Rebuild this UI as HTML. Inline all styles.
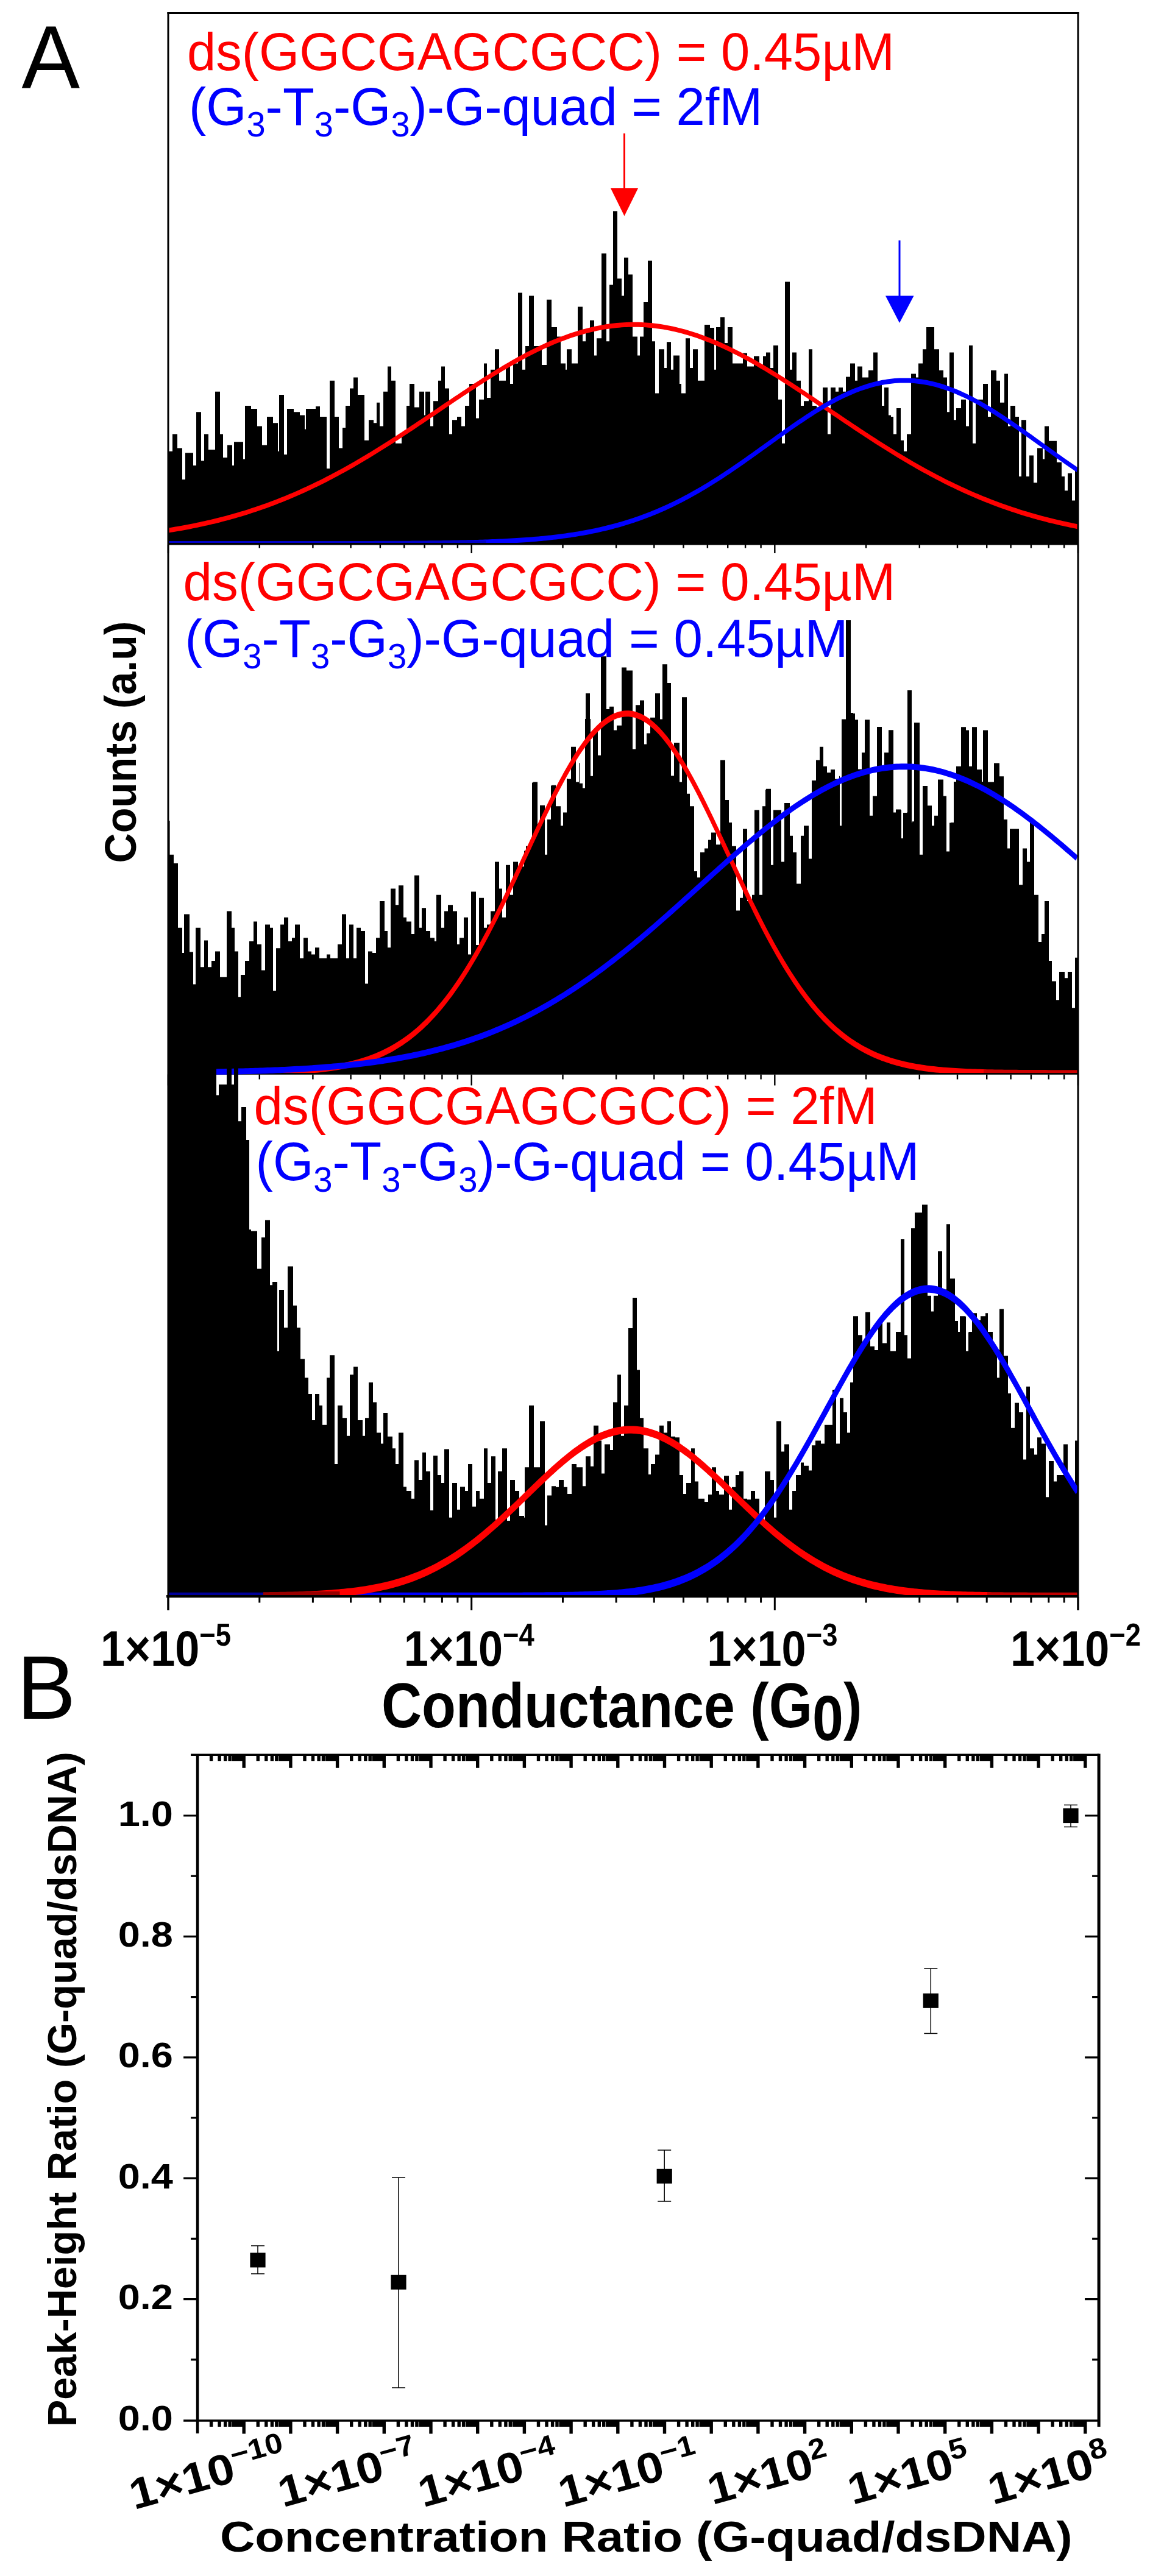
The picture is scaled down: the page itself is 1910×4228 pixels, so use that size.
<!DOCTYPE html>
<html><head><meta charset="utf-8"><title>Figure</title>
<style>html,body{margin:0;padding:0;background:#fff}</style></head>
<body>
<svg width="1910" height="4228" viewBox="0 0 1910 4228" style="display:block">
<rect width="1910" height="4228" fill="#fff"/>
<defs><clipPath id="c1"><rect x="274.5" y="0" width="1496" height="891.5"/></clipPath><clipPath id="c3"><rect x="274.5" y="1700" width="1496" height="918"/></clipPath></defs>
<path d="M277,893 277,740.7 283,740.7 283,712.4 291,712.4 291,735.6 299,735.6 299,787.1 304,787.1 304,743.3 317,743.3 317,763.9 322,763.9 322,676.3 330,676.3 330,756.2 335,756.2 335,712.4 342,712.4 342,738.1 353,738.1 353,642.8 361,642.8 361,712.4 366,712.4 366,751 373,751 373,730.4 381,730.4 381,763.9 384,763.9 384,725.3 399,725.3 399,753.6 402,753.6 402,666 412,666 412,671.1 422,671.1 422,699.5 430,699.5 430,730.4 438,730.4 438,684 448,684 448,694.3 456,694.3 456,740.7 458,740.7 458,647.9 466,647.9 466,745.9 471,745.9 471,671.1 482,671.1 482,676.3 492,676.3 492,681.4 500,681.4 500,704.6 502,704.6 502,671.1 518,671.1 518,667 525,667 525,684 536,684 536,769.1 541,769.1 541,624.7 549,624.7 549,684 556,684 556,735.6 562,735.6 562,702.1 567,702.1 567,666 574,666 574,637.6 580,637.6 580,619.6 587,619.6 587,647.9 598,647.9 598,722.7 605,722.7 605,689.2 613,689.2 613,694.3 618,694.3 618,660.8 623,660.8 623,699.5 629,699.5 629,642.8 636,642.8 636,601.5 642,601.5 642,624.7 649,624.7 649,727.8 659,727.8 659,712.4 667,712.4 667,666 672,666 672,629.9 680,629.9 680,668.6 688,668.6 688,642.8 696,642.8 696,681.4 698,681.4 698,642.8 706,642.8 706,699.5 711,699.5 711,658.2 719,658.2 719,624.7 724,624.7 724,601.5 730,601.5 730,637.6 737,637.6 737,712.4 742,712.4 742,689.2 750,689.2 750,684 757,684 757,699.5 763,699.5 763,666 770,666 770,629.9 781,629.9 781,686.6 786,686.6 786,655.7 794,655.7 794,596.4 799,596.4 799,653.1 805,653.1 805,606.7 812,606.7 812,573.2 819,573.2 819,624.7 830,624.7 830,599 837,599 837,629.9 842,629.9 842,596.4 850,596.4 850,480.4 857,480.4 857,606.7 862,606.7 862,568 868,568 868,485.6 876,485.6 876,568 889,568 889,599 897,599 897,491.8 905,491.8 905,537.1 914,537.1 914,552.6 920,552.6 920,596.4 928,596.4 928,606.7 930,606.7 930,573.2 938,573.2 938,596.4 948,596.4 948,503.6 956,503.6 956,560.3 961,560.3 961,542.3 968,542.3 968,525.8 975,525.8 975,583.5 979,583.5 979,555.2 987,555.2 987,416 995,416 995,560.3 1000,560.3 1000,467.5 1006,467.5 1006,346.4 1013,346.4 1013,457.2 1020,457.2 1020,485.6 1024,485.6 1024,422.7 1031,422.7 1031,450.5 1038,450.5 1038,552.6 1046,552.6 1046,583.5 1050,583.5 1050,552.6 1056,552.6 1056,495.9 1063,495.9 1063,427.8 1070,427.8 1070,560.3 1075,560.3 1075,645.4 1081,645.4 1081,573.2 1090,573.2 1090,604.1 1094,604.1 1094,561.3 1101,561.3 1101,606.7 1105,606.7 1105,583.5 1115,583.5 1115,629.9 1118,629.9 1118,645.4 1125,645.4 1125,555.2 1132,555.2 1132,604.1 1137,604.1 1137,573.2 1145,573.2 1145,624.7 1156,624.7 1156,533 1165,533 1165,538.1 1172,538.1 1172,606.7 1175,606.7 1175,537.1 1182,537.1 1182,520.6 1189,520.6 1189,562.9 1194,562.9 1194,537.1 1202,537.1 1202,596.4 1219,596.4 1219,579.4 1226,579.4 1226,601.5 1237,601.5 1237,584.5 1246,584.5 1246,601.5 1252,601.5 1252,584.5 1257,584.5 1257,578.4 1264,578.4 1264,604.1 1269,604.1 1269,567 1277,567 1277,655.7 1283,655.7 1283,727.8 1288,727.8 1288,462.4 1296,462.4 1296,606.7 1300,606.7 1300,578.4 1307,578.4 1307,624.7 1314,624.7 1314,666 1319,666 1319,658.2 1327,658.2 1327,573.2 1333,573.2 1333,666 1340,666 1340,668.6 1350,668.6 1350,636.1 1358,636.1 1358,712.4 1363,712.4 1363,636.1 1371,636.1 1371,642.8 1376,642.8 1376,636.1 1383,636.1 1383,642.8 1388,642.8 1388,618.6 1395,618.6 1395,596.4 1403,596.4 1403,624.7 1407,624.7 1407,601.5 1415,601.5 1415,619.6 1425,619.6 1425,607.7 1433,607.7 1433,578.4 1440,578.4 1440,629.9 1447,629.9 1447,666 1451,666 1451,636.1 1458,636.1 1458,681.4 1462,681.4 1462,684 1466,684 1466,712.4 1471,712.4 1471,670.1 1478,670.1 1478,722.7 1483,722.7 1483,740.7 1488,740.7 1488,712.4 1495,712.4 1495,613.4 1503,613.4 1503,619.6 1507,619.6 1507,596.4 1514,596.4 1514,573.2 1520,573.2 1520,537.1 1533,537.1 1533,573.2 1541,573.2 1541,607.7 1548,607.7 1548,619.6 1554,619.6 1554,676.3 1558,676.3 1558,578.4 1565,578.4 1565,689.2 1569,689.2 1569,670.1 1577,670.1 1577,655.7 1585,655.7 1585,699.5 1590,699.5 1590,567 1596,567 1596,727.8 1601,727.8 1601,655.7 1613,655.7 1613,629.9 1621,629.9 1621,684 1626,684 1626,607.7 1635,607.7 1635,624.7 1641,624.7 1641,660.8 1648,660.8 1648,613.4 1654,613.4 1654,699.5 1658,699.5 1658,666 1666,666 1666,684 1672,684 1672,782 1676,782 1676,689.2 1684,689.2 1684,782 1689,782 1689,747.4 1696,747.4 1696,792.3 1702,792.3 1702,735.6 1711,735.6 1711,753.6 1714,753.6 1714,699.5 1721,699.5 1721,723.7 1734,723.7 1734,758.8 1742,758.8 1742,782 1747,782 1747,805.2 1752,805.2 1752,776.8 1759,776.8 1759,821.6 1764,821.6 1764,769.1 1769,769.1 1769,893Z" fill="#000"/>
<g clip-path="url(#c1)" fill="none" stroke-width="5.3"><g transform="scale(1,1.5)">
<path d="M276.0,580.36 L280.0,579.94 L284.0,579.50 L288.0,579.05 L292.0,578.59 L296.0,578.12 L300.0,577.64 L304.0,577.15 L308.0,576.65 L312.0,576.13 L316.0,575.60 L320.0,575.06 L324.0,574.51 L328.0,573.95 L332.0,573.37 L336.0,572.78 L340.0,572.18 L344.0,571.57 L348.0,570.94 L352.0,570.30 L356.0,569.65 L360.0,568.98 L364.0,568.30 L368.0,567.60 L372.0,566.89 L376.0,566.17 L380.0,565.43 L384.0,564.68 L388.0,563.91 L392.0,563.13 L396.0,562.33 L400.0,561.52 L404.0,560.69 L408.0,559.85 L412.0,558.99 L416.0,558.12 L420.0,557.23 L424.0,556.32 L428.0,555.40 L432.0,554.47 L436.0,553.52 L440.0,552.55 L444.0,551.56 L448.0,550.56 L452.0,549.55 L456.0,548.51 L460.0,547.46 L464.0,546.40 L468.0,545.32 L472.0,544.22 L476.0,543.10 L480.0,541.97 L484.0,540.82 L488.0,539.66 L492.0,538.48 L496.0,537.28 L500.0,536.07 L504.0,534.84 L508.0,533.59 L512.0,532.33 L516.0,531.05 L520.0,529.75 L524.0,528.44 L528.0,527.11 L532.0,525.77 L536.0,524.41 L540.0,523.03 L544.0,521.64 L548.0,520.23 L552.0,518.81 L556.0,517.37 L560.0,515.92 L564.0,514.45 L568.0,512.97 L572.0,511.47 L576.0,509.96 L580.0,508.44 L584.0,506.90 L588.0,505.35 L592.0,503.78 L596.0,502.20 L600.0,500.61 L604.0,499.00 L608.0,497.39 L612.0,495.76 L616.0,494.11 L620.0,492.46 L624.0,490.80 L628.0,489.12 L632.0,487.44 L636.0,485.74 L640.0,484.04 L644.0,482.33 L648.0,480.60 L652.0,478.87 L656.0,477.13 L660.0,475.39 L664.0,473.63 L668.0,471.87 L672.0,470.10 L676.0,468.33 L680.0,466.55 L684.0,464.77 L688.0,462.98 L692.0,461.19 L696.0,459.39 L700.0,457.59 L704.0,455.79 L708.0,453.99 L712.0,452.18 L716.0,450.38 L720.0,448.57 L724.0,446.76 L728.0,444.96 L732.0,443.16 L736.0,441.35 L740.0,439.56 L744.0,437.76 L748.0,435.97 L752.0,434.18 L756.0,432.40 L760.0,430.62 L764.0,428.85 L768.0,427.08 L772.0,425.33 L776.0,423.58 L780.0,421.84 L784.0,420.11 L788.0,418.39 L792.0,416.68 L796.0,414.98 L800.0,413.29 L804.0,411.61 L808.0,409.95 L812.0,408.30 L816.0,406.67 L820.0,405.05 L824.0,403.45 L828.0,401.86 L832.0,400.29 L836.0,398.74 L840.0,397.20 L844.0,395.69 L848.0,394.19 L852.0,392.71 L856.0,391.26 L860.0,389.82 L864.0,388.41 L868.0,387.02 L872.0,385.65 L876.0,384.30 L880.0,382.98 L884.0,381.69 L888.0,380.42 L892.0,379.17 L896.0,377.95 L900.0,376.76 L904.0,375.60 L908.0,374.46 L912.0,373.35 L916.0,372.27 L920.0,371.22 L924.0,370.20 L928.0,369.21 L932.0,368.25 L936.0,367.32 L940.0,366.42 L944.0,365.56 L948.0,364.73 L952.0,363.92 L956.0,363.16 L960.0,362.42 L964.0,361.72 L968.0,361.05 L972.0,360.42 L976.0,359.82 L980.0,359.26 L984.0,358.73 L988.0,358.24 L992.0,357.78 L996.0,357.36 L1000.0,356.98 L1004.0,356.63 L1008.0,356.31 L1012.0,356.04 L1016.0,355.80 L1020.0,355.60 L1024.0,355.43 L1028.0,355.30 L1032.0,355.21 L1036.0,355.15 L1040.0,355.13 L1044.0,355.15 L1048.0,355.21 L1052.0,355.30 L1056.0,355.43 L1060.0,355.60 L1064.0,355.80 L1068.0,356.04 L1072.0,356.31 L1076.0,356.63 L1080.0,356.98 L1084.0,357.36 L1088.0,357.78 L1092.0,358.24 L1096.0,358.73 L1100.0,359.26 L1104.0,359.82 L1108.0,360.42 L1112.0,361.05 L1116.0,361.72 L1120.0,362.42 L1124.0,363.16 L1128.0,363.92 L1132.0,364.73 L1136.0,365.56 L1140.0,366.42 L1144.0,367.32 L1148.0,368.25 L1152.0,369.21 L1156.0,370.20 L1160.0,371.22 L1164.0,372.27 L1168.0,373.35 L1172.0,374.46 L1176.0,375.60 L1180.0,376.76 L1184.0,377.95 L1188.0,379.17 L1192.0,380.42 L1196.0,381.69 L1200.0,382.98 L1204.0,384.30 L1208.0,385.65 L1212.0,387.02 L1216.0,388.41 L1220.0,389.82 L1224.0,391.26 L1228.0,392.71 L1232.0,394.19 L1236.0,395.69 L1240.0,397.20 L1244.0,398.74 L1248.0,400.29 L1252.0,401.86 L1256.0,403.45 L1260.0,405.05 L1264.0,406.67 L1268.0,408.30 L1272.0,409.95 L1276.0,411.61 L1280.0,413.29 L1284.0,414.98 L1288.0,416.68 L1292.0,418.39 L1296.0,420.11 L1300.0,421.84 L1304.0,423.58 L1308.0,425.33 L1312.0,427.08 L1316.0,428.85 L1320.0,430.62 L1324.0,432.40 L1328.0,434.18 L1332.0,435.97 L1336.0,437.76 L1340.0,439.56 L1344.0,441.35 L1348.0,443.16 L1352.0,444.96 L1356.0,446.76 L1360.0,448.57 L1364.0,450.38 L1368.0,452.18 L1372.0,453.99 L1376.0,455.79 L1380.0,457.59 L1384.0,459.39 L1388.0,461.19 L1392.0,462.98 L1396.0,464.77 L1400.0,466.55 L1404.0,468.33 L1408.0,470.10 L1412.0,471.87 L1416.0,473.63 L1420.0,475.39 L1424.0,477.13 L1428.0,478.87 L1432.0,480.60 L1436.0,482.33 L1440.0,484.04 L1444.0,485.74 L1448.0,487.44 L1452.0,489.12 L1456.0,490.80 L1460.0,492.46 L1464.0,494.11 L1468.0,495.76 L1472.0,497.39 L1476.0,499.00 L1480.0,500.61 L1484.0,502.20 L1488.0,503.78 L1492.0,505.35 L1496.0,506.90 L1500.0,508.44 L1504.0,509.96 L1508.0,511.47 L1512.0,512.97 L1516.0,514.45 L1520.0,515.92 L1524.0,517.37 L1528.0,518.81 L1532.0,520.23 L1536.0,521.64 L1540.0,523.03 L1544.0,524.41 L1548.0,525.77 L1552.0,527.11 L1556.0,528.44 L1560.0,529.75 L1564.0,531.05 L1568.0,532.33 L1572.0,533.59 L1576.0,534.84 L1580.0,536.07 L1584.0,537.28 L1588.0,538.48 L1592.0,539.66 L1596.0,540.82 L1600.0,541.97 L1604.0,543.10 L1608.0,544.22 L1612.0,545.32 L1616.0,546.40 L1620.0,547.46 L1624.0,548.51 L1628.0,549.55 L1632.0,550.56 L1636.0,551.56 L1640.0,552.55 L1644.0,553.52 L1648.0,554.47 L1652.0,555.40 L1656.0,556.32 L1660.0,557.23 L1664.0,558.12 L1668.0,558.99 L1672.0,559.85 L1676.0,560.69 L1680.0,561.52 L1684.0,562.33 L1688.0,563.13 L1692.0,563.91 L1696.0,564.68 L1700.0,565.43 L1704.0,566.17 L1708.0,566.89 L1712.0,567.60 L1716.0,568.30 L1720.0,568.98 L1724.0,569.65 L1728.0,570.30 L1732.0,570.94 L1736.0,571.57 L1740.0,572.18 L1744.0,572.78 L1748.0,573.37 L1752.0,573.95 L1756.0,574.51 L1760.0,575.06 L1764.0,575.60 L1768.0,576.13" stroke="#f00"/>
<path d="M276.0,594.67 L280.0,594.67 L284.0,594.67 L288.0,594.67 L292.0,594.67 L296.0,594.67 L300.0,594.67 L304.0,594.67 L308.0,594.67 L312.0,594.67 L316.0,594.67 L320.0,594.67 L324.0,594.67 L328.0,594.67 L332.0,594.67 L336.0,594.67 L340.0,594.67 L344.0,594.67 L348.0,594.67 L352.0,594.67 L356.0,594.67 L360.0,594.67 L364.0,594.67 L368.0,594.67 L372.0,594.67 L376.0,594.67 L380.0,594.67 L384.0,594.67 L388.0,594.67 L392.0,594.67 L396.0,594.67 L400.0,594.67 L404.0,594.66 L408.0,594.66 L412.0,594.66 L416.0,594.66 L420.0,594.66 L424.0,594.66 L428.0,594.66 L432.0,594.66 L436.0,594.66 L440.0,594.66 L444.0,594.66 L448.0,594.66 L452.0,594.66 L456.0,594.66 L460.0,594.66 L464.0,594.66 L468.0,594.66 L472.0,594.66 L476.0,594.66 L480.0,594.66 L484.0,594.66 L488.0,594.66 L492.0,594.66 L496.0,594.66 L500.0,594.65 L504.0,594.65 L508.0,594.65 L512.0,594.65 L516.0,594.65 L520.0,594.65 L524.0,594.65 L528.0,594.65 L532.0,594.64 L536.0,594.64 L540.0,594.64 L544.0,594.64 L548.0,594.64 L552.0,594.63 L556.0,594.63 L560.0,594.63 L564.0,594.62 L568.0,594.62 L572.0,594.62 L576.0,594.61 L580.0,594.61 L584.0,594.61 L588.0,594.60 L592.0,594.60 L596.0,594.59 L600.0,594.59 L604.0,594.58 L608.0,594.58 L612.0,594.57 L616.0,594.56 L620.0,594.55 L624.0,594.55 L628.0,594.54 L632.0,594.53 L636.0,594.52 L640.0,594.51 L644.0,594.50 L648.0,594.49 L652.0,594.48 L656.0,594.46 L660.0,594.45 L664.0,594.43 L668.0,594.42 L672.0,594.40 L676.0,594.38 L680.0,594.37 L684.0,594.35 L688.0,594.32 L692.0,594.30 L696.0,594.28 L700.0,594.25 L704.0,594.23 L708.0,594.20 L712.0,594.17 L716.0,594.14 L720.0,594.11 L724.0,594.07 L728.0,594.04 L732.0,594.00 L736.0,593.96 L740.0,593.91 L744.0,593.87 L748.0,593.82 L752.0,593.77 L756.0,593.72 L760.0,593.66 L764.0,593.60 L768.0,593.54 L772.0,593.47 L776.0,593.40 L780.0,593.33 L784.0,593.26 L788.0,593.18 L792.0,593.09 L796.0,593.00 L800.0,592.91 L804.0,592.81 L808.0,592.71 L812.0,592.60 L816.0,592.49 L820.0,592.37 L824.0,592.25 L828.0,592.12 L832.0,591.99 L836.0,591.85 L840.0,591.70 L844.0,591.54 L848.0,591.38 L852.0,591.21 L856.0,591.04 L860.0,590.85 L864.0,590.66 L868.0,590.46 L872.0,590.25 L876.0,590.03 L880.0,589.81 L884.0,589.57 L888.0,589.32 L892.0,589.07 L896.0,588.80 L900.0,588.52 L904.0,588.23 L908.0,587.93 L912.0,587.62 L916.0,587.30 L920.0,586.96 L924.0,586.61 L928.0,586.24 L932.0,585.87 L936.0,585.48 L940.0,585.07 L944.0,584.65 L948.0,584.22 L952.0,583.77 L956.0,583.30 L960.0,582.82 L964.0,582.32 L968.0,581.80 L972.0,581.27 L976.0,580.72 L980.0,580.15 L984.0,579.56 L988.0,578.96 L992.0,578.33 L996.0,577.69 L1000.0,577.02 L1004.0,576.34 L1008.0,575.63 L1012.0,574.91 L1016.0,574.16 L1020.0,573.39 L1024.0,572.60 L1028.0,571.78 L1032.0,570.95 L1036.0,570.09 L1040.0,569.21 L1044.0,568.30 L1048.0,567.38 L1052.0,566.42 L1056.0,565.45 L1060.0,564.45 L1064.0,563.42 L1068.0,562.37 L1072.0,561.30 L1076.0,560.20 L1080.0,559.08 L1084.0,557.93 L1088.0,556.76 L1092.0,555.56 L1096.0,554.33 L1100.0,553.08 L1104.0,551.81 L1108.0,550.51 L1112.0,549.19 L1116.0,547.84 L1120.0,546.46 L1124.0,545.06 L1128.0,543.64 L1132.0,542.19 L1136.0,540.72 L1140.0,539.23 L1144.0,537.71 L1148.0,536.17 L1152.0,534.60 L1156.0,533.02 L1160.0,531.41 L1164.0,529.78 L1168.0,528.13 L1172.0,526.46 L1176.0,524.76 L1180.0,523.05 L1184.0,521.32 L1188.0,519.58 L1192.0,517.81 L1196.0,516.03 L1200.0,514.23 L1204.0,512.42 L1208.0,510.59 L1212.0,508.75 L1216.0,506.90 L1220.0,505.04 L1224.0,503.16 L1228.0,501.28 L1232.0,499.39 L1236.0,497.49 L1240.0,495.58 L1244.0,493.66 L1248.0,491.75 L1252.0,489.83 L1256.0,487.90 L1260.0,485.98 L1264.0,484.06 L1268.0,482.14 L1272.0,480.22 L1276.0,478.30 L1280.0,476.39 L1284.0,474.49 L1288.0,472.59 L1292.0,470.71 L1296.0,468.83 L1300.0,466.97 L1304.0,465.12 L1308.0,463.29 L1312.0,461.47 L1316.0,459.67 L1320.0,457.88 L1324.0,456.12 L1328.0,454.38 L1332.0,452.66 L1336.0,450.97 L1340.0,449.30 L1344.0,447.66 L1348.0,446.05 L1352.0,444.47 L1356.0,442.92 L1360.0,441.40 L1364.0,439.92 L1368.0,438.47 L1372.0,437.05 L1376.0,435.68 L1380.0,434.34 L1384.0,433.04 L1388.0,431.79 L1392.0,430.57 L1396.0,429.40 L1400.0,428.28 L1404.0,427.19 L1408.0,426.16 L1412.0,425.17 L1416.0,424.23 L1420.0,423.34 L1424.0,422.50 L1428.0,421.71 L1432.0,420.97 L1436.0,420.28 L1440.0,419.65 L1444.0,419.06 L1448.0,418.54 L1452.0,418.06 L1456.0,417.64 L1460.0,417.28 L1464.0,416.97 L1468.0,416.72 L1472.0,416.52 L1476.0,416.38 L1480.0,416.29 L1484.0,416.27 L1488.0,416.29 L1492.0,416.38 L1496.0,416.52 L1500.0,416.72 L1504.0,416.97 L1508.0,417.28 L1512.0,417.64 L1516.0,418.06 L1520.0,418.54 L1524.0,419.06 L1528.0,419.65 L1532.0,420.28 L1536.0,420.97 L1540.0,421.71 L1544.0,422.50 L1548.0,423.34 L1552.0,424.23 L1556.0,425.17 L1560.0,426.16 L1564.0,427.19 L1568.0,428.28 L1572.0,429.40 L1576.0,430.57 L1580.0,431.79 L1584.0,433.04 L1588.0,434.34 L1592.0,435.68 L1596.0,437.05 L1600.0,438.47 L1604.0,439.92 L1608.0,441.40 L1612.0,442.92 L1616.0,444.47 L1620.0,446.05 L1624.0,447.66 L1628.0,449.30 L1632.0,450.97 L1636.0,452.66 L1640.0,454.38 L1644.0,456.12 L1648.0,457.88 L1652.0,459.67 L1656.0,461.47 L1660.0,463.29 L1664.0,465.12 L1668.0,466.97 L1672.0,468.83 L1676.0,470.71 L1680.0,472.59 L1684.0,474.49 L1688.0,476.39 L1692.0,478.30 L1696.0,480.22 L1700.0,482.14 L1704.0,484.06 L1708.0,485.98 L1712.0,487.90 L1716.0,489.83 L1720.0,491.75 L1724.0,493.66 L1728.0,495.58 L1732.0,497.49 L1736.0,499.39 L1740.0,501.28 L1744.0,503.16 L1748.0,505.04 L1752.0,506.90 L1756.0,508.75 L1760.0,510.59 L1764.0,512.42 L1768.0,514.23" stroke="#00f"/>
</g></g>
<path d="M277,1762 277,1402.7 285,1402.7 285,1417.1 292,1417.1 292,1522.8 299,1522.8 299,1564 302,1564 302,1500.6 311,1500.6 311,1562.5 317,1562.5 317,1615.6 321,1615.6 321,1522.8 329,1522.8 329,1587.2 335,1587.2 335,1543.4 341,1543.4 341,1587.2 347,1587.2 347,1576.9 353,1576.9 353,1561.4 361,1561.4 361,1603.7 372,1603.7 372,1495.5 380,1495.5 380,1522.8 385,1522.8 385,1561.4 391,1561.4 391,1636.2 395,1636.2 395,1600.1 402,1600.1 402,1576.9 409,1576.9 409,1544.9 416,1544.9 416,1512.5 422,1512.5 422,1550.1 429,1550.1 429,1592.4 435,1592.4 435,1517.6 443,1517.6 443,1522.8 448,1522.8 448,1625.9 453,1625.9 453,1556.3 460,1556.3 460,1517.6 466,1517.6 466,1505.8 473,1505.8 473,1544.9 479,1544.9 479,1539.3 484,1539.3 484,1517.6 492,1517.6 492,1572.8 498,1572.8 498,1539.3 505,1539.3 505,1561.4 511,1561.4 511,1566.6 517,1566.6 517,1555.3 524,1555.3 524,1572.8 536,1572.8 536,1566.6 542,1566.6 542,1572.8 554,1572.8 554,1550.1 561,1550.1 561,1500.6 568,1500.6 568,1572.8 573,1572.8 573,1517.6 580,1517.6 580,1572.8 585,1572.8 585,1522.8 592,1522.8 592,1527.9 599,1527.9 599,1614.5 604,1614.5 604,1561.4 611,1561.4 611,1564 617,1564 617,1539.3 623,1539.3 623,1479 631,1479 631,1527.9 636,1527.9 636,1555.3 641,1555.3 641,1458.4 649,1458.4 649,1485.2 654,1485.2 654,1453.2 662,1453.2 662,1505.8 667,1505.8 667,1512.5 675,1512.5 675,1533.1 680,1533.1 680,1436.7 688,1436.7 688,1522.8 692,1522.8 692,1490.3 699,1490.3 699,1527.9 706,1527.9 706,1539.3 713,1539.3 713,1544.9 716,1544.9 716,1468.7 724,1468.7 724,1522.8 729,1522.8 729,1495.5 735,1495.5 735,1485.2 743,1485.2 743,1495.5 750,1495.5 750,1550.1 754,1550.1 754,1539.3 761,1539.3 761,1505.8 768,1505.8 768,1566.6 773,1566.6 773,1463.5 781,1463.5 781,1551.1 786,1551.1 786,1473.8 794,1473.8 794,1522.8 799,1522.8 799,1517.6 805,1517.6 805,1495.5 812,1495.5 812,1414.5 819,1414.5 819,1458.4 824,1458.4 824,1505.8 830,1505.8 830,1419.7 837,1419.7 837,1468.7 842,1468.7 842,1414.5 850,1414.5 850,1422.3 860,1422.3 860,1396.5 863,1396.5 863,1388.8 873,1388.8 873,1284.6 875,1284.6 875,1283.5 882,1283.5 882,1360.4 886,1360.4 886,1321.8 894,1321.8 894,1402.7 898,1402.7 898,1344.9 904,1344.9 904,1289.3 906,1289.3 906,1288.7 912,1288.7 912,1323.3 920,1323.3 920,1355.3 924,1355.3 924,1333.6 930,1333.6 930,1277.9 932,1277.9 932,1278.4 937,1278.4 937,1225.8 945,1225.8 945,1283.5 950,1283.5 950,1252.2 951,1252.2 951,1285.7 956,1285.7 956,1293.4 960,1293.4 960,1180 961,1180 961,1138.1 968,1138.1 968,1180 969,1180 969,1273.8 973,1273.8 973,1201 981,1201 981,1239.7 986,1239.7 986,1077.3 995,1077.3 995,1163.9 1000,1163.9 1000,1159.8 1007,1159.8 1007,1198.5 1012,1198.5 1012,1190.7 1020,1190.7 1020,1095.4 1028,1095.4 1028,1100.5 1038,1100.5 1038,1229.4 1043,1229.4 1043,1157.2 1050,1157.2 1050,1149.5 1057,1149.5 1057,1221.6 1061,1221.6 1061,1203.6 1067,1203.6 1067,1177.8 1075,1177.8 1075,1138.1 1083,1138.1 1083,1180.4 1087,1180.4 1087,1090.2 1095,1090.2 1095,1121.1 1101,1121.1 1101,1273.2 1106,1273.2 1106,1219.1 1115,1219.1 1115,1283.5 1119,1283.5 1119,1144.3 1127,1144.3 1127,1302.7 1132,1302.7 1132,1323.3 1139,1323.3 1139,1430 1144,1430 1144,1440.3 1149,1440.3 1149,1399.1 1156,1399.1 1156,1392.4 1162,1392.4 1162,1378.5 1167,1378.5 1167,1366.6 1175,1366.6 1175,1386.2 1182,1386.2 1182,1247.4 1190,1247.4 1190,1313 1196,1313 1196,1350.1 1201,1350.1 1201,1388.8 1208,1388.8 1208,1494.4 1214,1494.4 1214,1473.8 1219,1473.8 1219,1360.4 1226,1360.4 1226,1479 1234,1479 1234,1468.7 1238,1468.7 1238,1329.5 1246,1329.5 1246,1468.7 1251,1468.7 1251,1323.3 1256,1323.3 1256,1296 1257,1296 1257,1294.8 1265,1294.8 1265,1419.7 1269,1419.7 1269,1329.5 1282,1329.5 1282,1414.5 1287,1414.5 1287,1318.1 1296,1318.1 1296,1371.8 1301,1371.8 1301,1399.1 1307,1399.1 1307,1450.6 1314,1450.6 1314,1371.8 1319,1371.8 1319,1355.3 1327,1355.3 1327,1409.4 1332,1409.4 1332,1280.9 1339,1280.9 1339,1247.4 1345,1247.4 1345,1225.8 1351,1225.8 1351,1257.7 1357,1257.7 1357,1268 1363,1268 1363,1262.9 1370,1262.9 1370,1278.4 1377,1278.4 1377,1273.8 1378,1273.8 1378,1355.3 1381,1355.3 1381,1180.4 1388,1180.4 1388,1018 1396,1018 1396,1170.1 1400,1170.1 1400,1171 1403,1171 1403,1181.3 1408,1181.3 1408,1262.4 1414,1262.4 1414,1235.3 1419,1235.3 1419,1181.3 1427,1181.3 1427,1338.7 1432,1338.7 1432,1306.4 1439,1306.4 1439,1193 1447,1193 1447,1261.7 1451,1261.7 1451,1235.3 1458,1235.3 1458,1198.2 1466,1198.2 1466,1333.5 1470,1333.5 1470,1328.4 1478,1328.4 1478,1329.5 1479,1329.5 1479,1375.9 1482,1375.9 1482,1333.9 1488,1333.9 1488,1333.6 1489,1333.6 1489,1133 1496,1133 1496,1350.1 1497,1350.1 1497,1348.3 1500,1348.3 1500,1186.1 1509,1186.1 1509,1402.7 1514,1402.7 1514,1289.9 1522,1289.9 1522,1322.2 1529,1322.2 1529,1355.2 1533,1355.2 1533,1338.7 1539,1338.7 1539,1279.6 1548,1279.6 1548,1306.4 1553,1306.4 1553,1397.5 1558,1397.5 1558,1350.4 1560,1350.4 1560,1350.1 1565,1350.1 1565,1283.1 1569,1283.1 1569,1257.7 1577,1257.7 1577,1193.3 1585,1193.3 1585,1198.5 1590,1198.5 1590,1257.7 1595,1257.7 1595,1193.3 1603,1193.3 1603,1262.9 1611,1262.9 1611,1283.1 1613,1283.1 1613,1198.5 1621,1198.5 1621,1283.5 1631,1283.5 1631,1252.6 1640,1252.6 1640,1274.2 1647,1274.2 1647,1344.9 1653,1344.9 1653,1392.4 1657,1392.4 1657,1360.4 1672,1360.4 1672,1452.2 1678,1452.2 1678,1392.4 1685,1392.4 1685,1414.5 1690,1414.5 1690,1344.9 1697,1344.9 1697,1468.7 1704,1468.7 1704,1546 1709,1546 1709,1533.1 1714,1533.1 1714,1479 1721,1479 1721,1576.9 1726,1576.9 1726,1610.4 1733,1610.4 1733,1641.3 1738,1641.3 1738,1594.9 1747,1594.9 1747,1605.3 1752,1605.3 1752,1594.9 1759,1594.9 1759,1654.2 1764,1654.2 1764,1571.8 1769,1571.8 1769,1762Z" fill="#000"/>
<rect x="276" y="1347" width="2.6" height="60" fill="#000"/>
<defs><clipPath id="c2r"><rect x="274.5" y="900" width="1496" height="861.2"/></clipPath><clipPath id="c2b"><rect x="274.5" y="900" width="1496" height="863.8"/></clipPath></defs>
<g fill="none" stroke-width="6.4">
<g clip-path="url(#c2r)"><path transform="scale(1,1.55)" d="M440.0,1135.53 L444.0,1135.46 L448.0,1135.39 L452.0,1135.32 L456.0,1135.24 L460.0,1135.15 L464.0,1135.06 L468.0,1134.95 L472.0,1134.84 L476.0,1134.73 L480.0,1134.60 L484.0,1134.46 L488.0,1134.32 L492.0,1134.16 L496.0,1133.99 L500.0,1133.81 L504.0,1133.62 L508.0,1133.41 L512.0,1133.19 L516.0,1132.95 L520.0,1132.70 L524.0,1132.43 L528.0,1132.14 L532.0,1131.84 L536.0,1131.51 L540.0,1131.16 L544.0,1130.79 L548.0,1130.39 L552.0,1129.97 L556.0,1129.53 L560.0,1129.05 L564.0,1128.55 L568.0,1128.02 L572.0,1127.46 L576.0,1126.86 L580.0,1126.23 L584.0,1125.56 L588.0,1124.85 L592.0,1124.11 L596.0,1123.32 L600.0,1122.49 L604.0,1121.61 L608.0,1120.69 L612.0,1119.72 L616.0,1118.70 L620.0,1117.63 L624.0,1116.50 L628.0,1115.32 L632.0,1114.08 L636.0,1112.78 L640.0,1111.41 L644.0,1109.99 L648.0,1108.49 L652.0,1106.93 L656.0,1105.30 L660.0,1103.60 L664.0,1101.83 L668.0,1099.97 L672.0,1098.04 L676.0,1096.04 L680.0,1093.95 L684.0,1091.77 L688.0,1089.52 L692.0,1087.17 L696.0,1084.74 L700.0,1082.22 L704.0,1079.61 L708.0,1076.91 L712.0,1074.11 L716.0,1071.23 L720.0,1068.24 L724.0,1065.16 L728.0,1061.98 L732.0,1058.71 L736.0,1055.34 L740.0,1051.87 L744.0,1048.30 L748.0,1044.63 L752.0,1040.87 L756.0,1037.01 L760.0,1033.05 L764.0,1028.99 L768.0,1024.85 L772.0,1020.60 L776.0,1016.27 L780.0,1011.84 L784.0,1007.33 L788.0,1002.73 L792.0,998.04 L796.0,993.28 L800.0,988.43 L804.0,983.51 L808.0,978.51 L812.0,973.45 L816.0,968.32 L820.0,963.13 L824.0,957.88 L828.0,952.58 L832.0,947.23 L836.0,941.83 L840.0,936.40 L844.0,930.94 L848.0,925.44 L852.0,919.93 L856.0,914.39 L860.0,908.85 L864.0,903.31 L868.0,897.76 L872.0,892.23 L876.0,886.71 L880.0,881.21 L884.0,875.74 L888.0,870.31 L892.0,864.92 L896.0,859.59 L900.0,854.31 L904.0,849.09 L908.0,843.95 L912.0,838.89 L916.0,833.91 L920.0,829.03 L924.0,824.25 L928.0,819.58 L932.0,815.03 L936.0,810.59 L940.0,806.29 L944.0,802.12 L948.0,798.09 L952.0,794.22 L956.0,790.50 L960.0,786.93 L964.0,783.54 L968.0,780.32 L972.0,777.28 L976.0,774.42 L980.0,771.74 L984.0,769.26 L988.0,766.98 L992.0,764.90 L996.0,763.02 L1000.0,761.34 L1004.0,759.88 L1008.0,758.63 L1012.0,757.59 L1016.0,756.77 L1020.0,756.17 L1024.0,755.78 L1028.0,755.62 L1032.0,755.67 L1036.0,755.95 L1040.0,756.44 L1044.0,757.15 L1048.0,758.08 L1052.0,759.23 L1056.0,760.58 L1060.0,762.15 L1064.0,763.93 L1068.0,765.91 L1072.0,768.10 L1076.0,770.48 L1080.0,773.06 L1084.0,775.82 L1088.0,778.78 L1092.0,781.91 L1096.0,785.22 L1100.0,788.69 L1104.0,792.34 L1108.0,796.14 L1112.0,800.09 L1116.0,804.19 L1120.0,808.42 L1124.0,812.79 L1128.0,817.29 L1132.0,821.90 L1136.0,826.63 L1140.0,831.46 L1144.0,836.39 L1148.0,841.41 L1152.0,846.51 L1156.0,851.69 L1160.0,856.94 L1164.0,862.25 L1168.0,867.61 L1172.0,873.02 L1176.0,878.47 L1180.0,883.96 L1184.0,889.46 L1188.0,894.99 L1192.0,900.53 L1196.0,906.08 L1200.0,911.62 L1204.0,917.16 L1208.0,922.69 L1212.0,928.19 L1216.0,933.67 L1220.0,939.12 L1224.0,944.54 L1228.0,949.91 L1232.0,955.24 L1236.0,960.51 L1240.0,965.73 L1244.0,970.89 L1248.0,975.99 L1252.0,981.02 L1256.0,985.98 L1260.0,990.86 L1264.0,995.67 L1268.0,1000.40 L1272.0,1005.04 L1276.0,1009.60 L1280.0,1014.07 L1284.0,1018.45 L1288.0,1022.74 L1292.0,1026.93 L1296.0,1031.03 L1300.0,1035.04 L1304.0,1038.95 L1308.0,1042.76 L1312.0,1046.48 L1316.0,1050.09 L1320.0,1053.61 L1324.0,1057.03 L1328.0,1060.36 L1332.0,1063.58 L1336.0,1066.71 L1340.0,1069.74 L1344.0,1072.68 L1348.0,1075.52 L1352.0,1078.27 L1356.0,1080.93 L1360.0,1083.49 L1364.0,1085.97 L1368.0,1088.36 L1372.0,1090.66 L1376.0,1092.87 L1380.0,1095.00 L1384.0,1097.05 L1388.0,1099.02 L1392.0,1100.91 L1396.0,1102.72 L1400.0,1104.46 L1404.0,1106.13 L1408.0,1107.72 L1412.0,1109.25 L1416.0,1110.71 L1420.0,1112.10 L1424.0,1113.43 L1428.0,1114.71 L1432.0,1115.92 L1436.0,1117.07 L1440.0,1118.17 L1444.0,1119.22 L1448.0,1120.21 L1452.0,1121.16 L1456.0,1122.06 L1460.0,1122.91 L1464.0,1123.72 L1468.0,1124.48 L1472.0,1125.21 L1476.0,1125.90 L1480.0,1126.55 L1484.0,1127.16 L1488.0,1127.74 L1492.0,1128.29 L1496.0,1128.81 L1500.0,1129.29 L1504.0,1129.75 L1508.0,1130.19 L1512.0,1130.59 L1516.0,1130.98 L1520.0,1131.34 L1524.0,1131.67 L1528.0,1131.99 L1532.0,1132.29 L1536.0,1132.57 L1540.0,1132.83 L1544.0,1133.07 L1548.0,1133.30 L1552.0,1133.52 L1556.0,1133.72 L1560.0,1133.90 L1564.0,1134.08 L1568.0,1134.24 L1572.0,1134.39 L1576.0,1134.53 L1580.0,1134.66 L1584.0,1134.79 L1588.0,1134.90 L1592.0,1135.01 L1596.0,1135.10 L1600.0,1135.19 L1604.0,1135.28 L1608.0,1135.36 L1612.0,1135.43 L1616.0,1135.50 L1620.0,1135.56 L1624.0,1135.62 L1628.0,1135.67 L1632.0,1135.72 L1636.0,1135.76 L1640.0,1135.80 L1644.0,1135.84 L1648.0,1135.88 L1652.0,1135.91 L1656.0,1135.94 L1660.0,1135.97 L1664.0,1135.99 L1668.0,1136.02 L1672.0,1136.04 L1676.0,1136.06 L1680.0,1136.08 L1684.0,1136.09 L1688.0,1136.11 L1692.0,1136.12 L1696.0,1136.13 L1700.0,1136.14 L1704.0,1136.16 L1708.0,1136.16 L1712.0,1136.17 L1716.0,1136.18 L1720.0,1136.19 L1724.0,1136.20 L1728.0,1136.20 L1732.0,1136.21 L1736.0,1136.21 L1740.0,1136.22 L1744.0,1136.22 L1748.0,1136.22 L1752.0,1136.23 L1756.0,1136.23 L1760.0,1136.23 L1764.0,1136.24 L1768.0,1136.24" stroke="#f00"/></g>
<path d="M276.0,1762.5 H1769.0" stroke="#000" stroke-width="2.6"/>
<g clip-path="url(#c2b)"><path transform="scale(1,1.55)" d="M355.0,1135.06 L359.0,1135.01 L363.0,1134.96 L367.0,1134.91 L371.0,1134.86 L375.0,1134.80 L379.0,1134.74 L383.0,1134.68 L387.0,1134.62 L391.0,1134.56 L395.0,1134.49 L399.0,1134.42 L403.0,1134.35 L407.0,1134.27 L411.0,1134.20 L415.0,1134.12 L419.0,1134.04 L423.0,1133.95 L427.0,1133.86 L431.0,1133.77 L435.0,1133.68 L439.0,1133.58 L443.0,1133.48 L447.0,1133.38 L451.0,1133.27 L455.0,1133.16 L459.0,1133.05 L463.0,1132.93 L467.0,1132.81 L471.0,1132.68 L475.0,1132.56 L479.0,1132.42 L483.0,1132.28 L487.0,1132.14 L491.0,1132.00 L495.0,1131.84 L499.0,1131.69 L503.0,1131.53 L507.0,1131.36 L511.0,1131.19 L515.0,1131.01 L519.0,1130.83 L523.0,1130.65 L527.0,1130.45 L531.0,1130.26 L535.0,1130.05 L539.0,1129.84 L543.0,1129.62 L547.0,1129.40 L551.0,1129.17 L555.0,1128.94 L559.0,1128.69 L563.0,1128.44 L567.0,1128.19 L571.0,1127.92 L575.0,1127.65 L579.0,1127.37 L583.0,1127.09 L587.0,1126.79 L591.0,1126.49 L595.0,1126.18 L599.0,1125.86 L603.0,1125.53 L607.0,1125.19 L611.0,1124.85 L615.0,1124.49 L619.0,1124.13 L623.0,1123.75 L627.0,1123.37 L631.0,1122.98 L635.0,1122.57 L639.0,1122.16 L643.0,1121.73 L647.0,1121.30 L651.0,1120.85 L655.0,1120.40 L659.0,1119.93 L663.0,1119.45 L667.0,1118.96 L671.0,1118.45 L675.0,1117.94 L679.0,1117.41 L683.0,1116.87 L687.0,1116.32 L691.0,1115.75 L695.0,1115.17 L699.0,1114.58 L703.0,1113.98 L707.0,1113.36 L711.0,1112.72 L715.0,1112.08 L719.0,1111.42 L723.0,1110.74 L727.0,1110.05 L731.0,1109.34 L735.0,1108.62 L739.0,1107.89 L743.0,1107.14 L747.0,1106.37 L751.0,1105.59 L755.0,1104.79 L759.0,1103.97 L763.0,1103.14 L767.0,1102.29 L771.0,1101.43 L775.0,1100.55 L779.0,1099.65 L783.0,1098.73 L787.0,1097.80 L791.0,1096.85 L795.0,1095.88 L799.0,1094.89 L803.0,1093.88 L807.0,1092.86 L811.0,1091.82 L815.0,1090.75 L819.0,1089.67 L823.0,1088.58 L827.0,1087.46 L831.0,1086.32 L835.0,1085.16 L839.0,1083.99 L843.0,1082.79 L847.0,1081.58 L851.0,1080.34 L855.0,1079.09 L859.0,1077.81 L863.0,1076.52 L867.0,1075.21 L871.0,1073.87 L875.0,1072.52 L879.0,1071.14 L883.0,1069.75 L887.0,1068.33 L891.0,1066.89 L895.0,1065.44 L899.0,1063.96 L903.0,1062.46 L907.0,1060.94 L911.0,1059.41 L915.0,1057.85 L919.0,1056.27 L923.0,1054.67 L927.0,1053.05 L931.0,1051.41 L935.0,1049.75 L939.0,1048.07 L943.0,1046.37 L947.0,1044.65 L951.0,1042.91 L955.0,1041.16 L959.0,1039.38 L963.0,1037.58 L967.0,1035.76 L971.0,1033.93 L975.0,1032.07 L979.0,1030.20 L983.0,1028.31 L987.0,1026.40 L991.0,1024.47 L995.0,1022.52 L999.0,1020.56 L1003.0,1018.58 L1007.0,1016.58 L1011.0,1014.56 L1015.0,1012.53 L1019.0,1010.49 L1023.0,1008.42 L1027.0,1006.34 L1031.0,1004.25 L1035.0,1002.14 L1039.0,1000.02 L1043.0,997.88 L1047.0,995.73 L1051.0,993.56 L1055.0,991.39 L1059.0,989.20 L1063.0,986.99 L1067.0,984.78 L1071.0,982.56 L1075.0,980.32 L1079.0,978.07 L1083.0,975.82 L1087.0,973.55 L1091.0,971.28 L1095.0,969.00 L1099.0,966.71 L1103.0,964.41 L1107.0,962.11 L1111.0,959.80 L1115.0,957.49 L1119.0,955.17 L1123.0,952.84 L1127.0,950.51 L1131.0,948.18 L1135.0,945.85 L1139.0,943.52 L1143.0,941.18 L1147.0,938.85 L1151.0,936.51 L1155.0,934.17 L1159.0,931.84 L1163.0,929.51 L1167.0,927.18 L1171.0,924.85 L1175.0,922.53 L1179.0,920.22 L1183.0,917.91 L1187.0,915.60 L1191.0,913.31 L1195.0,911.02 L1199.0,908.74 L1203.0,906.47 L1207.0,904.21 L1211.0,901.96 L1215.0,899.72 L1219.0,897.49 L1223.0,895.28 L1227.0,893.08 L1231.0,890.89 L1235.0,888.72 L1239.0,886.57 L1243.0,884.43 L1247.0,882.31 L1251.0,880.21 L1255.0,878.13 L1259.0,876.06 L1263.0,874.02 L1267.0,872.00 L1271.0,870.00 L1275.0,868.02 L1279.0,866.07 L1283.0,864.14 L1287.0,862.24 L1291.0,860.36 L1295.0,858.51 L1299.0,856.68 L1303.0,854.88 L1307.0,853.11 L1311.0,851.37 L1315.0,849.66 L1319.0,847.98 L1323.0,846.33 L1327.0,844.71 L1331.0,843.13 L1335.0,841.57 L1339.0,840.06 L1343.0,838.57 L1347.0,837.12 L1351.0,835.71 L1355.0,834.33 L1359.0,832.98 L1363.0,831.68 L1367.0,830.41 L1371.0,829.18 L1375.0,827.99 L1379.0,826.83 L1383.0,825.72 L1387.0,824.65 L1391.0,823.61 L1395.0,822.62 L1399.0,821.67 L1403.0,820.76 L1407.0,819.89 L1411.0,819.06 L1415.0,818.28 L1419.0,817.54 L1423.0,816.84 L1427.0,816.19 L1431.0,815.58 L1435.0,815.02 L1439.0,814.50 L1443.0,814.02 L1447.0,813.59 L1451.0,813.20 L1455.0,812.86 L1459.0,812.56 L1463.0,812.31 L1467.0,812.11 L1471.0,811.95 L1475.0,811.83 L1479.0,811.76 L1483.0,811.74 L1487.0,811.76 L1491.0,811.83 L1495.0,811.95 L1499.0,812.11 L1503.0,812.31 L1507.0,812.56 L1511.0,812.86 L1515.0,813.20 L1519.0,813.59 L1523.0,814.02 L1527.0,814.50 L1531.0,815.02 L1535.0,815.58 L1539.0,816.19 L1543.0,816.84 L1547.0,817.54 L1551.0,818.28 L1555.0,819.06 L1559.0,819.89 L1563.0,820.76 L1567.0,821.67 L1571.0,822.62 L1575.0,823.61 L1579.0,824.65 L1583.0,825.72 L1587.0,826.83 L1591.0,827.99 L1595.0,829.18 L1599.0,830.41 L1603.0,831.68 L1607.0,832.98 L1611.0,834.33 L1615.0,835.71 L1619.0,837.12 L1623.0,838.57 L1627.0,840.06 L1631.0,841.57 L1635.0,843.13 L1639.0,844.71 L1643.0,846.33 L1647.0,847.98 L1651.0,849.66 L1655.0,851.37 L1659.0,853.11 L1663.0,854.88 L1667.0,856.68 L1671.0,858.51 L1675.0,860.36 L1679.0,862.24 L1683.0,864.14 L1687.0,866.07 L1691.0,868.02 L1695.0,870.00 L1699.0,872.00 L1703.0,874.02 L1707.0,876.06 L1711.0,878.13 L1715.0,880.21 L1719.0,882.31 L1723.0,884.43 L1727.0,886.57 L1731.0,888.72 L1735.0,890.89 L1739.0,893.08 L1743.0,895.28 L1747.0,897.49 L1751.0,899.72 L1755.0,901.96 L1759.0,904.21 L1763.0,906.47 L1767.0,908.74" stroke="#00f"/></g>
</g>
<rect x="1614" y="1755" width="155" height="6.2" fill="#000" opacity="0.2"/>
<path d="M277,2619 277,1752 355,1752 355,1797.4 359,1797.4 359,1779.9 372,1779.9 372,1752 380,1752 380,1779.9 384,1779.9 384,1752 391,1752 391,1840.2 396,1840.2 396,1817 404,1817 404,1871.1 409,1871.1 409,2018 412,2018 412,2020.6 422,2020.6 422,2082.5 429,2082.5 429,2030.9 435,2030.9 435,2002.6 443,2002.6 443,2109.3 447,2109.3 447,2104.1 455,2104.1 455,2217.5 458,2217.5 458,2117 466,2117 466,2178.9 472,2178.9 472,2078.4 481,2078.4 481,2142.8 487,2142.8 487,2178.9 493,2178.9 493,2230.4 500,2230.4 500,2261.3 506,2261.3 506,2288.1 512,2288.1 512,2330.9 517,2330.9 517,2288.1 524,2288.1 524,2306.7 529,2306.7 529,2338.7 536,2338.7 536,2261.3 541,2261.3 541,2224.2 549,2224.2 549,2403.1 554,2403.1 554,2306.7 562,2306.7 562,2327.3 569,2327.3 569,2356.7 574,2356.7 574,2256.2 580,2256.2 580,2243.3 587,2243.3 587,2330.9 595,2330.9 595,2356.7 599,2356.7 599,2327.3 605,2327.3 605,2269.1 612,2269.1 612,2301.5 618,2301.5 618,2351.5 625,2351.5 625,2369.6 629,2369.6 629,2319.1 636,2319.1 636,2357.7 644,2357.7 644,2377.3 649,2377.3 649,2403.1 654,2403.1 654,2351.5 662,2351.5 662,2440.2 667,2440.2 667,2446.9 675,2446.9 675,2459.8 680,2459.8 680,2396.4 687,2396.4 687,2428.9 693,2428.9 693,2384 699,2384 699,2414.9 706,2414.9 706,2478.9 711,2478.9 711,2389.2 718,2389.2 718,2421.1 724,2421.1 724,2434 729,2434 729,2378.4 737,2378.4 737,2490.7 742,2490.7 742,2434 750,2434 750,2477.8 755,2477.8 755,2440.2 763,2440.2 763,2446.9 768,2446.9 768,2403.1 775,2403.1 775,2472.7 781,2472.7 781,2446.9 787,2446.9 787,2459.8 794,2459.8 794,2377.3 800,2377.3 800,2434 806,2434 806,2390.2 813,2390.2 813,2494.3 817,2494.3 817,2414.9 824,2414.9 824,2377.3 832,2377.3 832,2495.9 837,2495.9 837,2428.9 845,2428.9 845,2446.9 852,2446.9 852,2488.1 860,2488.1 860,2490.7 861,2490.7 861,2408.2 868,2408.2 868,2306.7 876,2306.7 876,2408.2 886,2408.2 886,2332.5 894,2332.5 894,2503.6 898,2503.6 898,2454.6 905,2454.6 905,2439.2 912,2439.2 912,2440.7 917,2440.7 917,2428.9 925,2428.9 925,2440.7 931,2440.7 931,2452.1 938,2452.1 938,2403.1 946,2403.1 946,2408.2 956,2408.2 956,2439.2 961,2439.2 961,2390.2 969,2390.2 969,2406.7 974,2406.7 974,2339.7 982,2339.7 982,2364.4 987,2364.4 987,2418.6 992,2418.6 992,2370.6 1001,2370.6 1001,2379.9 1006,2379.9 1006,2301.5 1013,2301.5 1013,2256.2 1019,2256.2 1019,2356.7 1024,2356.7 1024,2306.7 1031,2306.7 1031,2179.9 1038,2179.9 1038,2129.9 1045,2129.9 1045,2248.5 1050,2248.5 1050,2327.3 1056,2327.3 1056,2377.3 1064,2377.3 1064,2420.1 1068,2420.1 1068,2403.1 1075,2403.1 1075,2387.6 1082,2387.6 1082,2339.7 1089,2339.7 1089,2351.5 1095,2351.5 1095,2332.5 1101,2332.5 1101,2357.7 1108,2357.7 1108,2359.3 1115,2359.3 1115,2421.1 1121,2421.1 1121,2452.1 1126,2452.1 1126,2434 1134,2434 1134,2377.3 1140,2377.3 1140,2431.4 1146,2431.4 1146,2459.8 1156,2459.8 1156,2464.9 1162,2464.9 1162,2453.1 1168,2453.1 1168,2408.2 1175,2408.2 1175,2446.9 1180,2446.9 1180,2453.1 1188,2453.1 1188,2422.2 1196,2422.2 1196,2477.8 1201,2477.8 1201,2440.7 1207,2440.7 1207,2421.1 1213,2421.1 1213,2414.9 1220,2414.9 1220,2459.8 1226,2459.8 1226,2461.3 1232,2461.3 1232,2446.9 1239,2446.9 1239,2459.8 1246,2459.8 1246,2498.5 1255,2498.5 1255,2414.9 1264,2414.9 1264,2428.9 1270,2428.9 1270,2490.7 1274,2490.7 1274,2332.5 1282,2332.5 1282,2382.5 1287,2382.5 1287,2370.6 1295,2370.6 1295,2477.8 1300,2477.8 1300,2446.9 1306,2446.9 1306,2421.1 1314,2421.1 1314,2400.5 1319,2400.5 1319,2405.7 1327,2405.7 1327,2413.4 1332,2413.4 1332,2372.2 1338,2372.2 1338,2364.4 1347,2364.4 1347,2369.6 1353,2369.6 1353,2338.7 1366,2338.7 1366,2280.9 1372,2280.9 1372,2369.6 1378,2369.6 1378,2294.8 1384,2294.8 1384,2318 1390,2318 1390,2351.5 1395,2351.5 1395,2269.1 1400,2269.1 1400,2160.3 1408,2160.3 1408,2191.2 1415,2191.2 1415,2204.6 1420,2204.6 1420,2153.6 1428,2153.6 1428,2209.8 1435,2209.8 1435,2216 1441,2216 1441,2171.1 1448,2171.1 1448,2204.6 1455,2204.6 1455,2170.6 1461,2170.6 1461,2217.5 1470,2217.5 1470,2186.1 1478,2186.1 1478,2034 1484,2034 1484,2191.2 1489,2191.2 1489,2229.4 1495,2229.4 1495,2016 1501,2016 1501,1990.2 1513,1990.2 1513,1977.3 1522,1977.3 1522,2126.8 1528,2126.8 1528,2152.6 1532,2152.6 1532,2126.8 1539,2126.8 1539,2053.6 1546,2053.6 1546,2116.5 1553,2116.5 1553,2009.3 1559,2009.3 1559,2098.5 1567,2098.5 1567,2168 1572,2168 1572,2186.1 1575,2186.1 1575,2160.3 1584,2160.3 1584,2160.8 1585,2160.8 1585,2217.5 1589,2217.5 1589,2186.6 1590,2186.6 1590,2186.1 1595,2186.1 1595,2155.2 1603,2155.2 1603,2167 1609,2167 1609,2160.3 1617,2160.3 1617,2155.2 1621,2155.2 1621,2186.1 1629,2186.1 1629,2209.8 1636,2209.8 1636,2261.3 1640,2261.3 1640,2148.5 1647,2148.5 1647,2225.3 1654,2225.3 1654,2287.1 1659,2287.1 1659,2343.8 1665,2343.8 1665,2302.6 1672,2302.6 1672,2318 1679,2318 1679,2395.4 1684,2395.4 1684,2275.8 1690,2275.8 1690,2377.3 1697,2377.3 1697,2387.6 1702,2387.6 1702,2359.3 1709,2359.3 1709,2369.6 1716,2369.6 1716,2457.2 1721,2457.2 1721,2397.9 1729,2397.9 1729,2431.4 1734,2431.4 1734,2421.1 1745,2421.1 1745,2370.6 1752,2370.6 1752,2428.9 1759,2428.9 1759,2441.8 1764,2441.8 1764,2364.4 1769,2364.4 1769,2619Z" fill="#000"/>
<g clip-path="url(#c3)" fill="none" stroke-width="7.5"><g transform="scale(1,1.65)">
<path d="M276.0,1587.88 L280.0,1587.88 L284.0,1587.88 L288.0,1587.88 L292.0,1587.88 L296.0,1587.88 L300.0,1587.88 L304.0,1587.88 L308.0,1587.88 L312.0,1587.88 L316.0,1587.88 L320.0,1587.88 L324.0,1587.88 L328.0,1587.88 L332.0,1587.88 L336.0,1587.88 L340.0,1587.88 L344.0,1587.88 L348.0,1587.88 L352.0,1587.88 L356.0,1587.88 L360.0,1587.88 L364.0,1587.88 L368.0,1587.88 L372.0,1587.88 L376.0,1587.88 L380.0,1587.88 L384.0,1587.88 L388.0,1587.88 L392.0,1587.88 L396.0,1587.88 L400.0,1587.88 L404.0,1587.88 L408.0,1587.88 L412.0,1587.88 L416.0,1587.88 L420.0,1587.88 L424.0,1587.88 L428.0,1587.88 L432.0,1587.88 L436.0,1587.88 L440.0,1587.88 L444.0,1587.88 L448.0,1587.88 L452.0,1587.88 L456.0,1587.88 L460.0,1587.88 L464.0,1587.88 L468.0,1587.88 L472.0,1587.88 L476.0,1587.88 L480.0,1587.88 L484.0,1587.88 L488.0,1587.88 L492.0,1587.88 L496.0,1587.88 L500.0,1587.88 L504.0,1587.88 L508.0,1587.88 L512.0,1587.88 L516.0,1587.88 L520.0,1587.88 L524.0,1587.88 L528.0,1587.88 L532.0,1587.88 L536.0,1587.88 L540.0,1587.88 L544.0,1587.88 L548.0,1587.88 L552.0,1587.88 L556.0,1587.88 L560.0,1587.88 L564.0,1587.88 L568.0,1587.88 L572.0,1587.88 L576.0,1587.88 L580.0,1587.88 L584.0,1587.88 L588.0,1587.88 L592.0,1587.88 L596.0,1587.88 L600.0,1587.88 L604.0,1587.88 L608.0,1587.88 L612.0,1587.88 L616.0,1587.88 L620.0,1587.88 L624.0,1587.88 L628.0,1587.88 L632.0,1587.88 L636.0,1587.88 L640.0,1587.88 L644.0,1587.88 L648.0,1587.88 L652.0,1587.88 L656.0,1587.88 L660.0,1587.88 L664.0,1587.88 L668.0,1587.88 L672.0,1587.88 L676.0,1587.88 L680.0,1587.88 L684.0,1587.88 L688.0,1587.88 L692.0,1587.88 L696.0,1587.88 L700.0,1587.88 L704.0,1587.88 L708.0,1587.88 L712.0,1587.88 L716.0,1587.88 L720.0,1587.88 L724.0,1587.88 L728.0,1587.88 L732.0,1587.87 L736.0,1587.87 L740.0,1587.87 L744.0,1587.87 L748.0,1587.87 L752.0,1587.87 L756.0,1587.87 L760.0,1587.87 L764.0,1587.87 L768.0,1587.87 L772.0,1587.87 L776.0,1587.86 L780.0,1587.86 L784.0,1587.86 L788.0,1587.86 L792.0,1587.86 L796.0,1587.86 L800.0,1587.85 L804.0,1587.85 L808.0,1587.85 L812.0,1587.84 L816.0,1587.84 L820.0,1587.84 L824.0,1587.83 L828.0,1587.83 L832.0,1587.82 L836.0,1587.81 L840.0,1587.81 L844.0,1587.80 L848.0,1587.79 L852.0,1587.78 L856.0,1587.77 L860.0,1587.76 L864.0,1587.75 L868.0,1587.74 L872.0,1587.73 L876.0,1587.71 L880.0,1587.69 L884.0,1587.68 L888.0,1587.66 L892.0,1587.64 L896.0,1587.61 L900.0,1587.59 L904.0,1587.56 L908.0,1587.53 L912.0,1587.50 L916.0,1587.47 L920.0,1587.43 L924.0,1587.39 L928.0,1587.34 L932.0,1587.30 L936.0,1587.24 L940.0,1587.19 L944.0,1587.13 L948.0,1587.06 L952.0,1586.99 L956.0,1586.92 L960.0,1586.84 L964.0,1586.75 L968.0,1586.66 L972.0,1586.56 L976.0,1586.45 L980.0,1586.33 L984.0,1586.21 L988.0,1586.07 L992.0,1585.93 L996.0,1585.78 L1000.0,1585.61" stroke="#00f"/>
<path d="M432.0,1587.55 L436.0,1587.52 L440.0,1587.49 L444.0,1587.46 L448.0,1587.43 L452.0,1587.39 L456.0,1587.35 L460.0,1587.30 L464.0,1587.26 L468.0,1587.21 L472.0,1587.15 L476.0,1587.09 L480.0,1587.03 L484.0,1586.96 L488.0,1586.89 L492.0,1586.82 L496.0,1586.74 L500.0,1586.65 L504.0,1586.55 L508.0,1586.45 L512.0,1586.35 L516.0,1586.24 L520.0,1586.11 L524.0,1585.99 L528.0,1585.85 L532.0,1585.70 L536.0,1585.55 L540.0,1585.38 L544.0,1585.21 L548.0,1585.02 L552.0,1584.83 L556.0,1584.62 L560.0,1584.40 L564.0,1584.17 L568.0,1583.92 L572.0,1583.66 L576.0,1583.38 L580.0,1583.09 L584.0,1582.79 L588.0,1582.46 L592.0,1582.12 L596.0,1581.76 L600.0,1581.39 L604.0,1580.99 L608.0,1580.57 L612.0,1580.13 L616.0,1579.67 L620.0,1579.19 L624.0,1578.68 L628.0,1578.15 L632.0,1577.60 L636.0,1577.02 L640.0,1576.41 L644.0,1575.78 L648.0,1575.11 L652.0,1574.42 L656.0,1573.70 L660.0,1572.95 L664.0,1572.16 L668.0,1571.35 L672.0,1570.50 L676.0,1569.62 L680.0,1568.70 L684.0,1567.75 L688.0,1566.76 L692.0,1565.74 L696.0,1564.68 L700.0,1563.59 L704.0,1562.45 L708.0,1561.28 L712.0,1560.07 L716.0,1558.82 L720.0,1557.53 L724.0,1556.19 L728.0,1554.82 L732.0,1553.41 L736.0,1551.96 L740.0,1550.47 L744.0,1548.94 L748.0,1547.36 L752.0,1545.75 L756.0,1544.10 L760.0,1542.40 L764.0,1540.67 L768.0,1538.90 L772.0,1537.09 L776.0,1535.24 L780.0,1533.35 L784.0,1531.43 L788.0,1529.47 L792.0,1527.47 L796.0,1525.45 L800.0,1523.39 L804.0,1521.29 L808.0,1519.17 L812.0,1517.02 L816.0,1514.84 L820.0,1512.64 L824.0,1510.41 L828.0,1508.16 L832.0,1505.90 L836.0,1503.61 L840.0,1501.30 L844.0,1498.99 L848.0,1496.65 L852.0,1494.31 L856.0,1491.97 L860.0,1489.62 L864.0,1487.26 L868.0,1484.91 L872.0,1482.55 L876.0,1480.21 L880.0,1477.87 L884.0,1475.54 L888.0,1473.23 L892.0,1470.93 L896.0,1468.65 L900.0,1466.40 L904.0,1464.17 L908.0,1461.97 L912.0,1459.80 L916.0,1457.66 L920.0,1455.56 L924.0,1453.50 L928.0,1451.49 L932.0,1449.52 L936.0,1447.59 L940.0,1445.72 L944.0,1443.91 L948.0,1442.15 L952.0,1440.45 L956.0,1438.81 L960.0,1437.23 L964.0,1435.73 L968.0,1434.29 L972.0,1432.92 L976.0,1431.63 L980.0,1430.42 L984.0,1429.28 L988.0,1428.22 L992.0,1427.24 L996.0,1426.34 L1000.0,1425.53 L1004.0,1424.81 L1008.0,1424.17 L1012.0,1423.61 L1016.0,1423.15 L1020.0,1422.78 L1024.0,1422.49 L1028.0,1422.30 L1032.0,1422.20 L1036.0,1422.19 L1040.0,1422.27 L1044.0,1422.44 L1048.0,1422.70 L1052.0,1423.05 L1056.0,1423.49 L1060.0,1424.02 L1064.0,1424.64 L1068.0,1425.34 L1072.0,1426.13 L1076.0,1427.01 L1080.0,1427.96 L1084.0,1429.00 L1088.0,1430.12 L1092.0,1431.32 L1096.0,1432.59 L1100.0,1433.94 L1104.0,1435.36 L1108.0,1436.85 L1112.0,1438.41 L1116.0,1440.03 L1120.0,1441.72 L1124.0,1443.46 L1128.0,1445.26 L1132.0,1447.12 L1136.0,1449.03 L1140.0,1450.99 L1144.0,1452.99 L1148.0,1455.04 L1152.0,1457.13 L1156.0,1459.26 L1160.0,1461.42 L1164.0,1463.62 L1168.0,1465.84 L1172.0,1468.09 L1176.0,1470.36 L1180.0,1472.65 L1184.0,1474.96 L1188.0,1477.29 L1192.0,1479.62 L1196.0,1481.97 L1200.0,1484.32 L1204.0,1486.67 L1208.0,1489.03 L1212.0,1491.38 L1216.0,1493.73 L1220.0,1496.07 L1224.0,1498.40 L1228.0,1500.73 L1232.0,1503.03 L1236.0,1505.33 L1240.0,1507.60 L1244.0,1509.85 L1248.0,1512.09 L1252.0,1514.30 L1256.0,1516.48 L1260.0,1518.64 L1264.0,1520.77 L1268.0,1522.87 L1272.0,1524.93 L1276.0,1526.97 L1280.0,1528.97 L1284.0,1530.94 L1288.0,1532.87 L1292.0,1534.77 L1296.0,1536.63 L1300.0,1538.45 L1304.0,1540.23 L1308.0,1541.97 L1312.0,1543.68 L1316.0,1545.34 L1320.0,1546.96 L1324.0,1548.55 L1328.0,1550.09 L1332.0,1551.59 L1336.0,1553.05 L1340.0,1554.48 L1344.0,1555.86 L1348.0,1557.20 L1352.0,1558.50 L1356.0,1559.76 L1360.0,1560.98 L1364.0,1562.16 L1368.0,1563.31 L1372.0,1564.41 L1376.0,1565.48 L1380.0,1566.51 L1384.0,1567.51 L1388.0,1568.47 L1392.0,1569.39 L1396.0,1570.28 L1400.0,1571.14 L1404.0,1571.96 L1408.0,1572.75 L1412.0,1573.51 L1416.0,1574.24 L1420.0,1574.94 L1424.0,1575.61 L1428.0,1576.25 L1432.0,1576.87 L1436.0,1577.46 L1440.0,1578.02 L1444.0,1578.55 L1448.0,1579.07 L1452.0,1579.55 L1456.0,1580.02 L1460.0,1580.46 L1464.0,1580.89 L1468.0,1581.29 L1472.0,1581.67 L1476.0,1582.03 L1480.0,1582.38 L1484.0,1582.71 L1488.0,1583.02 L1492.0,1583.31 L1496.0,1583.59 L1500.0,1583.86 L1504.0,1584.11 L1508.0,1584.34 L1512.0,1584.57 L1516.0,1584.78 L1520.0,1584.98 L1524.0,1585.16 L1528.0,1585.34 L1532.0,1585.51 L1536.0,1585.67 L1540.0,1585.81 L1544.0,1585.95 L1548.0,1586.08 L1552.0,1586.21 L1556.0,1586.32 L1560.0,1586.43 L1564.0,1586.53 L1568.0,1586.62 L1572.0,1586.71 L1576.0,1586.80 L1580.0,1586.87 L1584.0,1586.95 L1588.0,1587.02 L1592.0,1587.08 L1596.0,1587.14 L1600.0,1587.19 L1604.0,1587.24 L1608.0,1587.29 L1612.0,1587.34 L1616.0,1587.38 L1620.0,1587.42 L1624.0,1587.45 L1628.0,1587.49 L1632.0,1587.52 L1636.0,1587.55 L1640.0,1587.57 L1644.0,1587.60 L1648.0,1587.62 L1652.0,1587.64 L1656.0,1587.66 L1660.0,1587.68 L1664.0,1587.69 L1668.0,1587.71 L1672.0,1587.72 L1676.0,1587.74 L1680.0,1587.75 L1684.0,1587.76 L1688.0,1587.77 L1692.0,1587.78 L1696.0,1587.79 L1700.0,1587.80 L1704.0,1587.80 L1708.0,1587.81 L1712.0,1587.82 L1716.0,1587.82 L1720.0,1587.83 L1724.0,1587.83 L1728.0,1587.84 L1732.0,1587.84 L1736.0,1587.84 L1740.0,1587.85 L1744.0,1587.85 L1748.0,1587.85 L1752.0,1587.85 L1756.0,1587.86 L1760.0,1587.86 L1764.0,1587.86 L1768.0,1587.86" stroke="#f00"/>
<path d="M996.0,1585.78 L1000.0,1585.61 L1004.0,1585.43 L1008.0,1585.25 L1012.0,1585.05 L1016.0,1584.83 L1020.0,1584.60 L1024.0,1584.36 L1028.0,1584.10 L1032.0,1583.82 L1036.0,1583.53 L1040.0,1583.21 L1044.0,1582.88 L1048.0,1582.53 L1052.0,1582.15 L1056.0,1581.75 L1060.0,1581.33 L1064.0,1580.88 L1068.0,1580.41 L1072.0,1579.90 L1076.0,1579.37 L1080.0,1578.81 L1084.0,1578.22 L1088.0,1577.60 L1092.0,1576.94 L1096.0,1576.24 L1100.0,1575.51 L1104.0,1574.74 L1108.0,1573.93 L1112.0,1573.08 L1116.0,1572.19 L1120.0,1571.25 L1124.0,1570.27 L1128.0,1569.23 L1132.0,1568.15 L1136.0,1567.02 L1140.0,1565.84 L1144.0,1564.60 L1148.0,1563.31 L1152.0,1561.96 L1156.0,1560.55 L1160.0,1559.08 L1164.0,1557.55 L1168.0,1555.95 L1172.0,1554.30 L1176.0,1552.57 L1180.0,1550.78 L1184.0,1548.92 L1188.0,1546.99 L1192.0,1544.99 L1196.0,1542.92 L1200.0,1540.77 L1204.0,1538.56 L1208.0,1536.26 L1212.0,1533.89 L1216.0,1531.44 L1220.0,1528.92 L1224.0,1526.32 L1228.0,1523.64 L1232.0,1520.88 L1236.0,1518.05 L1240.0,1515.14 L1244.0,1512.14 L1248.0,1509.07 L1252.0,1505.93 L1256.0,1502.70 L1260.0,1499.40 L1264.0,1496.03 L1268.0,1492.58 L1272.0,1489.06 L1276.0,1485.47 L1280.0,1481.80 L1284.0,1478.07 L1288.0,1474.28 L1292.0,1470.42 L1296.0,1466.49 L1300.0,1462.51 L1304.0,1458.48 L1308.0,1454.38 L1312.0,1450.24 L1316.0,1446.05 L1320.0,1441.82 L1324.0,1437.55 L1328.0,1433.24 L1332.0,1428.90 L1336.0,1424.53 L1340.0,1420.14 L1344.0,1415.73 L1348.0,1411.30 L1352.0,1406.87 L1356.0,1402.43 L1360.0,1397.99 L1364.0,1393.55 L1368.0,1389.12 L1372.0,1384.72 L1376.0,1380.33 L1380.0,1375.97 L1384.0,1371.64 L1388.0,1367.35 L1392.0,1363.10 L1396.0,1358.90 L1400.0,1354.76 L1404.0,1350.68 L1408.0,1346.66 L1412.0,1342.72 L1416.0,1338.86 L1420.0,1335.08 L1424.0,1331.39 L1428.0,1327.80 L1432.0,1324.31 L1436.0,1320.92 L1440.0,1317.65 L1444.0,1314.49 L1448.0,1311.45 L1452.0,1308.54 L1456.0,1305.76 L1460.0,1303.12 L1464.0,1300.62 L1468.0,1298.26 L1472.0,1296.05 L1476.0,1293.99 L1480.0,1292.09 L1484.0,1290.35 L1488.0,1288.76 L1492.0,1287.34 L1496.0,1286.09 L1500.0,1285.01 L1504.0,1284.09 L1508.0,1283.35 L1512.0,1282.78 L1516.0,1282.39 L1520.0,1282.17 L1524.0,1282.13 L1528.0,1282.26 L1532.0,1282.56 L1536.0,1283.05 L1540.0,1283.70 L1544.0,1284.53 L1548.0,1285.53 L1552.0,1286.70 L1556.0,1288.03 L1560.0,1289.53 L1564.0,1291.20 L1568.0,1293.02 L1572.0,1295.00 L1576.0,1297.14 L1580.0,1299.42 L1584.0,1301.85 L1588.0,1304.43 L1592.0,1307.14 L1596.0,1309.98 L1600.0,1312.95 L1604.0,1316.05 L1608.0,1319.27 L1612.0,1322.60 L1616.0,1326.04 L1620.0,1329.58 L1624.0,1333.22 L1628.0,1336.96 L1632.0,1340.78 L1636.0,1344.68 L1640.0,1348.66 L1644.0,1352.71 L1648.0,1356.82 L1652.0,1360.99 L1656.0,1365.22 L1660.0,1369.49 L1664.0,1373.80 L1668.0,1378.14 L1672.0,1382.52 L1676.0,1386.92 L1680.0,1391.34 L1684.0,1395.77 L1688.0,1400.21 L1692.0,1404.65 L1696.0,1409.09 L1700.0,1413.52 L1704.0,1417.94 L1708.0,1422.34 L1712.0,1426.72 L1716.0,1431.08 L1720.0,1435.40 L1724.0,1439.69 L1728.0,1443.94 L1732.0,1448.15 L1736.0,1452.32 L1740.0,1456.44 L1744.0,1460.50 L1748.0,1464.51 L1752.0,1468.46 L1756.0,1472.35 L1760.0,1476.18 L1764.0,1479.95 L1768.0,1483.64" stroke="#00f"/>
</g></g>
<rect x="277.5" y="887" width="520" height="5" fill="#000" opacity="0.22"/>
<rect x="277.5" y="2612" width="280" height="6.5" fill="#000" opacity="0.4"/>
<rect x="1620" y="2612" width="148" height="6.5" fill="#000" opacity="0.25"/>
<g stroke="#000" fill="none">
<path d="M276.0,20 V2643 M1769.0,20 V2643" stroke-width="3"/>
<path d="M274.5,21.5 H1770.5" stroke-width="3"/>
<path d="M276.0,892.8 H1769.0" stroke-width="3.4"/>
<path d="M273.0,2620.2 H1769.0" stroke-width="4.3"/>
<path d="M276.0,894 v14 M425.8,894 v5.5 M513.4,894 v5.5 M575.6,894 v5.5 M623.9,894 v5.5 M663.3,894 v5.5 M696.6,894 v5.5 M725.4,894 v5.5 M750.9,894 v5.5 M773.7,894 v14 M923.5,894 v5.5 M1011.1,894 v5.5 M1073.3,894 v5.5 M1121.5,894 v5.5 M1160.9,894 v5.5 M1194.2,894 v5.5 M1223.1,894 v5.5 M1248.6,894 v5.5 M1271.3,894 v14 M1421.1,894 v5.5 M1508.8,894 v5.5 M1571.0,894 v5.5 M1619.2,894 v5.5 M1658.6,894 v5.5 M1691.9,894 v5.5 M1720.8,894 v5.5 M1746.2,894 v5.5 M1769.0,894 v14" stroke-width="2.4"/>
<path d="M276.0,1763.5 v18 M425.8,1763.5 v8 M513.4,1763.5 v8 M575.6,1763.5 v8 M623.9,1763.5 v8 M663.3,1763.5 v8 M696.6,1763.5 v8 M725.4,1763.5 v8 M750.9,1763.5 v8 M773.7,1763.5 v18 M923.5,1763.5 v8 M1011.1,1763.5 v8 M1073.3,1763.5 v8 M1121.5,1763.5 v8 M1160.9,1763.5 v8 M1194.2,1763.5 v8 M1223.1,1763.5 v8 M1248.6,1763.5 v8 M1271.3,1763.5 v18 M1421.1,1763.5 v8 M1508.8,1763.5 v8 M1571.0,1763.5 v8 M1619.2,1763.5 v8 M1658.6,1763.5 v8 M1691.9,1763.5 v8 M1720.8,1763.5 v8 M1746.2,1763.5 v8 M1769.0,1763.5 v18" stroke-width="2.4"/>
<path d="M276.0,2621 v22 M425.8,2621 v9.5 M513.4,2621 v9.5 M575.6,2621 v9.5 M623.9,2621 v9.5 M663.3,2621 v9.5 M696.6,2621 v9.5 M725.4,2621 v9.5 M750.9,2621 v9.5 M773.7,2621 v22 M923.5,2621 v9.5 M1011.1,2621 v9.5 M1073.3,2621 v9.5 M1121.5,2621 v9.5 M1160.9,2621 v9.5 M1194.2,2621 v9.5 M1223.1,2621 v9.5 M1248.6,2621 v9.5 M1271.3,2621 v22 M1421.1,2621 v9.5 M1508.8,2621 v9.5 M1571.0,2621 v9.5 M1619.2,2621 v9.5 M1658.6,2621 v9.5 M1691.9,2621 v9.5 M1720.8,2621 v9.5 M1746.2,2621 v9.5 M1769.0,2621 v22" stroke-width="3"/>
</g>
<path d="M1024.5,219 V312" stroke="#f00" stroke-width="3"/><path d="M1002,309 H1047 L1024.5,354.5Z" fill="#f00"/>
<path d="M1476,394.5 V488" stroke="#00f" stroke-width="3"/><path d="M1453,485.5 H1499.5 L1476,530Z" fill="#00f"/>
<g font-family="Liberation Sans, Arial, sans-serif">
<text transform="translate(307,114.5) scale(0.9660,1)" font-size="88" fill="#f00">ds(GGCGAGCGCC) = 0.45µM</text>
<text transform="translate(310,205) scale(0.9660,1)" font-size="88" fill="#00f">(G<tspan font-size="58" dy="19">3</tspan><tspan dy="-19">-T</tspan><tspan font-size="58" dy="19">3</tspan><tspan dy="-19">-G</tspan><tspan font-size="58" dy="19">3</tspan><tspan dy="-19">)-G-quad = 2fM</tspan></text>
<text transform="translate(300.5,985) scale(0.9723,1)" font-size="88" fill="#f00">ds(GGCGAGCGCC) = 0.45µM</text>
<text transform="translate(303.5,1078) scale(0.9689,1)" font-size="88" fill="#00f">(G<tspan font-size="58" dy="19">3</tspan><tspan dy="-19">-T</tspan><tspan font-size="58" dy="19">3</tspan><tspan dy="-19">-G</tspan><tspan font-size="58" dy="19">3</tspan><tspan dy="-19">)-G-quad = 0.45µM</tspan></text>
<text transform="translate(416.5,1844.5) scale(0.9713,1)" font-size="88" fill="#f00">ds(GGCGAGCGCC) = 2fM</text>
<text transform="translate(419.5,1937) scale(0.9699,1)" font-size="88" fill="#00f">(G<tspan font-size="58" dy="19">3</tspan><tspan dy="-19">-T</tspan><tspan font-size="58" dy="19">3</tspan><tspan dy="-19">-G</tspan><tspan font-size="58" dy="19">3</tspan><tspan dy="-19">)-G-quad = 0.45µM</tspan></text>
<text transform="translate(35.4,145.4) scale(0.975,1)" font-size="147">A</text>
<text transform="translate(27.4,2821) scale(0.98,1)" font-size="148">B</text>
<g font-weight="bold">
<text transform="translate(223,1218) rotate(-90) scale(0.945,1.0)" text-anchor="middle" font-size="72">Counts (a.u)</text>
<text transform="translate(165.0,2734) scale(0.89,1)" font-size="81">1×10<tspan font-size="51" dy="-33">−5</tspan></text>
<text transform="translate(662.7,2734) scale(0.89,1)" font-size="81">1×10<tspan font-size="51" dy="-33">−4</tspan></text>
<text transform="translate(1160.3,2734) scale(0.89,1)" font-size="81">1×10<tspan font-size="51" dy="-33">−3</tspan></text>
<text transform="translate(1658.0,2734) scale(0.89,1)" font-size="81">1×10<tspan font-size="51" dy="-33">−2</tspan></text>
<text transform="translate(626,2835) scale(0.889,1)" font-size="103">Conductance (G<tspan dy="21">0</tspan><tspan dy="-21">)</tspan></text>
</g></g>
<g stroke="#000" fill="none">
<path d="M324.1,2880.3 V3994.0" stroke-width="4.6"/>
<path d="M1803.1,2878.6000000000004 V3983.0" stroke-width="5"/>
<path d="M313.1,2880.3 H1803.1" stroke-width="3.4"/>
<path d="M301.1,3973.0 H1803.1" stroke-width="3.4"/>
<path d="M324.1,3872.8 h-11 M1803.1,3872.8 h-11 M324.1,3773.6 h-23 M1803.1,3773.6 h-23 M324.1,3674.4 h-11 M1803.1,3674.4 h-11 M324.1,3575.2 h-23 M1803.1,3575.2 h-23 M324.1,3476.0 h-11 M1803.1,3476.0 h-11 M324.1,3376.8 h-23 M1803.1,3376.8 h-23 M324.1,3277.6 h-11 M1803.1,3277.6 h-11 M324.1,3178.4 h-23 M1803.1,3178.4 h-23 M324.1,3079.2 h-11 M1803.1,3079.2 h-11 M324.1,2980.0 h-23 M1803.1,2980.0 h-23" stroke-width="3.2"/>
<path d="M346.6,2880.3 v10 M346.6,3973.0 v10 M360.1,2880.3 v10 M360.1,3973.0 v10 M369.7,2880.3 v10 M369.7,3973.0 v10 M377.1,2880.3 v10 M377.1,3973.0 v10 M383.2,2880.3 v10 M383.2,3973.0 v10 M388.3,2880.3 v10 M388.3,3973.0 v10 M392.8,2880.3 v10 M392.8,3973.0 v10 M396.7,2880.3 v10 M396.7,3973.0 v10 M400.2,2880.3 v21.5 M400.2,3973.0 v21.5 M423.3,2880.3 v10 M423.3,3973.0 v10 M436.8,2880.3 v10 M436.8,3973.0 v10 M446.4,2880.3 v10 M446.4,3973.0 v10 M453.8,2880.3 v10 M453.8,3973.0 v10 M459.9,2880.3 v10 M459.9,3973.0 v10 M465.0,2880.3 v10 M465.0,3973.0 v10 M469.5,2880.3 v10 M469.5,3973.0 v10 M473.4,2880.3 v10 M473.4,3973.0 v10 M476.9,2880.3 v21.5 M476.9,3973.0 v21.5 M500.0,2880.3 v10 M500.0,3973.0 v10 M513.5,2880.3 v10 M513.5,3973.0 v10 M523.1,2880.3 v10 M523.1,3973.0 v10 M530.5,2880.3 v10 M530.5,3973.0 v10 M536.6,2880.3 v10 M536.6,3973.0 v10 M541.7,2880.3 v10 M541.7,3973.0 v10 M546.2,2880.3 v10 M546.2,3973.0 v10 M550.1,2880.3 v10 M550.1,3973.0 v10 M553.6,2880.3 v21.5 M553.6,3973.0 v21.5 M576.7,2880.3 v10 M576.7,3973.0 v10 M590.2,2880.3 v10 M590.2,3973.0 v10 M599.8,2880.3 v10 M599.8,3973.0 v10 M607.2,2880.3 v10 M607.2,3973.0 v10 M613.3,2880.3 v10 M613.3,3973.0 v10 M618.4,2880.3 v10 M618.4,3973.0 v10 M622.9,2880.3 v10 M622.9,3973.0 v10 M626.8,2880.3 v10 M626.8,3973.0 v10 M630.3,2880.3 v21.5 M630.3,3973.0 v21.5 M653.4,2880.3 v10 M653.4,3973.0 v10 M666.9,2880.3 v10 M666.9,3973.0 v10 M676.5,2880.3 v10 M676.5,3973.0 v10 M683.9,2880.3 v10 M683.9,3973.0 v10 M690.0,2880.3 v10 M690.0,3973.0 v10 M695.1,2880.3 v10 M695.1,3973.0 v10 M699.6,2880.3 v10 M699.6,3973.0 v10 M703.5,2880.3 v10 M703.5,3973.0 v10 M707.0,2880.3 v21.5 M707.0,3973.0 v21.5 M730.1,2880.3 v10 M730.1,3973.0 v10 M743.6,2880.3 v10 M743.6,3973.0 v10 M753.2,2880.3 v10 M753.2,3973.0 v10 M760.6,2880.3 v10 M760.6,3973.0 v10 M766.7,2880.3 v10 M766.7,3973.0 v10 M771.8,2880.3 v10 M771.8,3973.0 v10 M776.3,2880.3 v10 M776.3,3973.0 v10 M780.2,2880.3 v10 M780.2,3973.0 v10 M783.7,2880.3 v21.5 M783.7,3973.0 v21.5 M806.8,2880.3 v10 M806.8,3973.0 v10 M820.3,2880.3 v10 M820.3,3973.0 v10 M829.9,2880.3 v10 M829.9,3973.0 v10 M837.3,2880.3 v10 M837.3,3973.0 v10 M843.4,2880.3 v10 M843.4,3973.0 v10 M848.5,2880.3 v10 M848.5,3973.0 v10 M853.0,2880.3 v10 M853.0,3973.0 v10 M856.9,2880.3 v10 M856.9,3973.0 v10 M860.4,2880.3 v21.5 M860.4,3973.0 v21.5 M883.5,2880.3 v10 M883.5,3973.0 v10 M897.0,2880.3 v10 M897.0,3973.0 v10 M906.6,2880.3 v10 M906.6,3973.0 v10 M914.0,2880.3 v10 M914.0,3973.0 v10 M920.1,2880.3 v10 M920.1,3973.0 v10 M925.2,2880.3 v10 M925.2,3973.0 v10 M929.7,2880.3 v10 M929.7,3973.0 v10 M933.6,2880.3 v10 M933.6,3973.0 v10 M937.1,2880.3 v21.5 M937.1,3973.0 v21.5 M960.2,2880.3 v10 M960.2,3973.0 v10 M973.7,2880.3 v10 M973.7,3973.0 v10 M983.3,2880.3 v10 M983.3,3973.0 v10 M990.7,2880.3 v10 M990.7,3973.0 v10 M996.8,2880.3 v10 M996.8,3973.0 v10 M1001.9,2880.3 v10 M1001.9,3973.0 v10 M1006.4,2880.3 v10 M1006.4,3973.0 v10 M1010.3,2880.3 v10 M1010.3,3973.0 v10 M1013.8,2880.3 v21.5 M1013.8,3973.0 v21.5 M1036.9,2880.3 v10 M1036.9,3973.0 v10 M1050.4,2880.3 v10 M1050.4,3973.0 v10 M1060.0,2880.3 v10 M1060.0,3973.0 v10 M1067.4,2880.3 v10 M1067.4,3973.0 v10 M1073.5,2880.3 v10 M1073.5,3973.0 v10 M1078.6,2880.3 v10 M1078.6,3973.0 v10 M1083.1,2880.3 v10 M1083.1,3973.0 v10 M1087.0,2880.3 v10 M1087.0,3973.0 v10 M1090.5,2880.3 v21.5 M1090.5,3973.0 v21.5 M1113.6,2880.3 v10 M1113.6,3973.0 v10 M1127.1,2880.3 v10 M1127.1,3973.0 v10 M1136.7,2880.3 v10 M1136.7,3973.0 v10 M1144.1,2880.3 v10 M1144.1,3973.0 v10 M1150.2,2880.3 v10 M1150.2,3973.0 v10 M1155.3,2880.3 v10 M1155.3,3973.0 v10 M1159.8,2880.3 v10 M1159.8,3973.0 v10 M1163.7,2880.3 v10 M1163.7,3973.0 v10 M1167.2,2880.3 v21.5 M1167.2,3973.0 v21.5 M1190.3,2880.3 v10 M1190.3,3973.0 v10 M1203.8,2880.3 v10 M1203.8,3973.0 v10 M1213.4,2880.3 v10 M1213.4,3973.0 v10 M1220.8,2880.3 v10 M1220.8,3973.0 v10 M1226.9,2880.3 v10 M1226.9,3973.0 v10 M1232.0,2880.3 v10 M1232.0,3973.0 v10 M1236.5,2880.3 v10 M1236.5,3973.0 v10 M1240.4,2880.3 v10 M1240.4,3973.0 v10 M1243.9,2880.3 v21.5 M1243.9,3973.0 v21.5 M1267.0,2880.3 v10 M1267.0,3973.0 v10 M1280.5,2880.3 v10 M1280.5,3973.0 v10 M1290.1,2880.3 v10 M1290.1,3973.0 v10 M1297.5,2880.3 v10 M1297.5,3973.0 v10 M1303.6,2880.3 v10 M1303.6,3973.0 v10 M1308.7,2880.3 v10 M1308.7,3973.0 v10 M1313.2,2880.3 v10 M1313.2,3973.0 v10 M1317.1,2880.3 v10 M1317.1,3973.0 v10 M1320.6,2880.3 v21.5 M1320.6,3973.0 v21.5 M1343.7,2880.3 v10 M1343.7,3973.0 v10 M1357.2,2880.3 v10 M1357.2,3973.0 v10 M1366.8,2880.3 v10 M1366.8,3973.0 v10 M1374.2,2880.3 v10 M1374.2,3973.0 v10 M1380.3,2880.3 v10 M1380.3,3973.0 v10 M1385.4,2880.3 v10 M1385.4,3973.0 v10 M1389.9,2880.3 v10 M1389.9,3973.0 v10 M1393.8,2880.3 v10 M1393.8,3973.0 v10 M1397.3,2880.3 v21.5 M1397.3,3973.0 v21.5 M1420.4,2880.3 v10 M1420.4,3973.0 v10 M1433.9,2880.3 v10 M1433.9,3973.0 v10 M1443.5,2880.3 v10 M1443.5,3973.0 v10 M1450.9,2880.3 v10 M1450.9,3973.0 v10 M1457.0,2880.3 v10 M1457.0,3973.0 v10 M1462.1,2880.3 v10 M1462.1,3973.0 v10 M1466.6,2880.3 v10 M1466.6,3973.0 v10 M1470.5,2880.3 v10 M1470.5,3973.0 v10 M1474.0,2880.3 v21.5 M1474.0,3973.0 v21.5 M1497.1,2880.3 v10 M1497.1,3973.0 v10 M1510.6,2880.3 v10 M1510.6,3973.0 v10 M1520.2,2880.3 v10 M1520.2,3973.0 v10 M1527.6,2880.3 v10 M1527.6,3973.0 v10 M1533.7,2880.3 v10 M1533.7,3973.0 v10 M1538.8,2880.3 v10 M1538.8,3973.0 v10 M1543.3,2880.3 v10 M1543.3,3973.0 v10 M1547.2,2880.3 v10 M1547.2,3973.0 v10 M1550.7,2880.3 v21.5 M1550.7,3973.0 v21.5 M1573.8,2880.3 v10 M1573.8,3973.0 v10 M1587.3,2880.3 v10 M1587.3,3973.0 v10 M1596.9,2880.3 v10 M1596.9,3973.0 v10 M1604.3,2880.3 v10 M1604.3,3973.0 v10 M1610.4,2880.3 v10 M1610.4,3973.0 v10 M1615.5,2880.3 v10 M1615.5,3973.0 v10 M1620.0,2880.3 v10 M1620.0,3973.0 v10 M1623.9,2880.3 v10 M1623.9,3973.0 v10 M1627.4,2880.3 v21.5 M1627.4,3973.0 v21.5 M1650.5,2880.3 v10 M1650.5,3973.0 v10 M1664.0,2880.3 v10 M1664.0,3973.0 v10 M1673.6,2880.3 v10 M1673.6,3973.0 v10 M1681.0,2880.3 v10 M1681.0,3973.0 v10 M1687.1,2880.3 v10 M1687.1,3973.0 v10 M1692.2,2880.3 v10 M1692.2,3973.0 v10 M1696.7,2880.3 v10 M1696.7,3973.0 v10 M1700.6,2880.3 v10 M1700.6,3973.0 v10 M1704.1,2880.3 v21.5 M1704.1,3973.0 v21.5 M1727.2,2880.3 v10 M1727.2,3973.0 v10 M1740.7,2880.3 v10 M1740.7,3973.0 v10 M1750.3,2880.3 v10 M1750.3,3973.0 v10 M1757.7,2880.3 v10 M1757.7,3973.0 v10 M1763.8,2880.3 v10 M1763.8,3973.0 v10 M1768.9,2880.3 v10 M1768.9,3973.0 v10 M1773.4,2880.3 v10 M1773.4,3973.0 v10 M1777.3,2880.3 v10 M1777.3,3973.0 v10 M1780.8,2880.3 v21.5 M1780.8,3973.0 v21.5" stroke-width="5.4"/>
<path d="M423,3686 V3732 M412,3686 h22 M412,3732 h22 M654,3574 V3919 M643,3574 h22 M643,3919 h22 M1090.2,3529 V3613 M1079.2,3529 h22 M1079.2,3613 h22 M1527.3,3231 V3337.4 M1516.3,3231 h22 M1516.3,3337.4 h22 M1757,2962.6 V2998.4 M1746,2962.6 h22 M1746,2998.4 h22" stroke-width="1.5"/>
</g>
<rect x="410.4" y="3697.5" width="25.2" height="24" fill="#000"/>
<rect x="641.4" y="3733.8" width="25.2" height="24" fill="#000"/>
<rect x="1077.6000000000001" y="3559.8" width="25.2" height="24" fill="#000"/>
<rect x="1514.7" y="3271.8" width="25.2" height="24" fill="#000"/>
<rect x="1744.4" y="2968.1" width="25.2" height="24" fill="#000"/>
<g font-family="Liberation Sans, Arial, sans-serif" font-weight="bold">
<text transform="translate(284,3988.5) scale(1.12,1)" text-anchor="end" font-size="58">0.0</text>
<text transform="translate(284,3790.1) scale(1.12,1)" text-anchor="end" font-size="58">0.2</text>
<text transform="translate(284,3591.7) scale(1.12,1)" text-anchor="end" font-size="58">0.4</text>
<text transform="translate(284,3393.3) scale(1.12,1)" text-anchor="end" font-size="58">0.6</text>
<text transform="translate(284,3194.9) scale(1.12,1)" text-anchor="end" font-size="58">0.8</text>
<text transform="translate(284,2996.5) scale(1.12,1)" text-anchor="end" font-size="58">1.0</text>
<text transform="translate(125,3429.3) rotate(-90)" text-anchor="middle" font-size="66.7">Peak-Height Ratio (G-quad/dsDNA)</text>
<text transform="translate(1060.4,4188) scale(1.135,1)" text-anchor="middle" font-size="70">Concentration Ratio (G-quad/dsDNA)</text>
<text transform="translate(347.2,4084) rotate(-15.5) scale(1.1,1)" text-anchor="middle" font-size="71">1×10<tspan font-size="47" dy="-27">−10</tspan></text>
<text transform="translate(577.3,4084) rotate(-15.5) scale(1.1,1)" text-anchor="middle" font-size="71">1×10<tspan font-size="47" dy="-27">−7</tspan></text>
<text transform="translate(807.4,4084) rotate(-15.5) scale(1.1,1)" text-anchor="middle" font-size="71">1×10<tspan font-size="47" dy="-27">−4</tspan></text>
<text transform="translate(1037.5,4084) rotate(-15.5) scale(1.1,1)" text-anchor="middle" font-size="71">1×10<tspan font-size="47" dy="-27">−1</tspan></text>
<text transform="translate(1267.6,4084) rotate(-15.5) scale(1.1,1)" text-anchor="middle" font-size="71">1×10<tspan font-size="47" dy="-27">2</tspan></text>
<text transform="translate(1497.7,4084) rotate(-15.5) scale(1.1,1)" text-anchor="middle" font-size="71">1×10<tspan font-size="47" dy="-27">5</tspan></text>
<text transform="translate(1727.8,4084) rotate(-15.5) scale(1.1,1)" text-anchor="middle" font-size="71">1×10<tspan font-size="47" dy="-27">8</tspan></text>
</g>
</svg>
</body></html>
